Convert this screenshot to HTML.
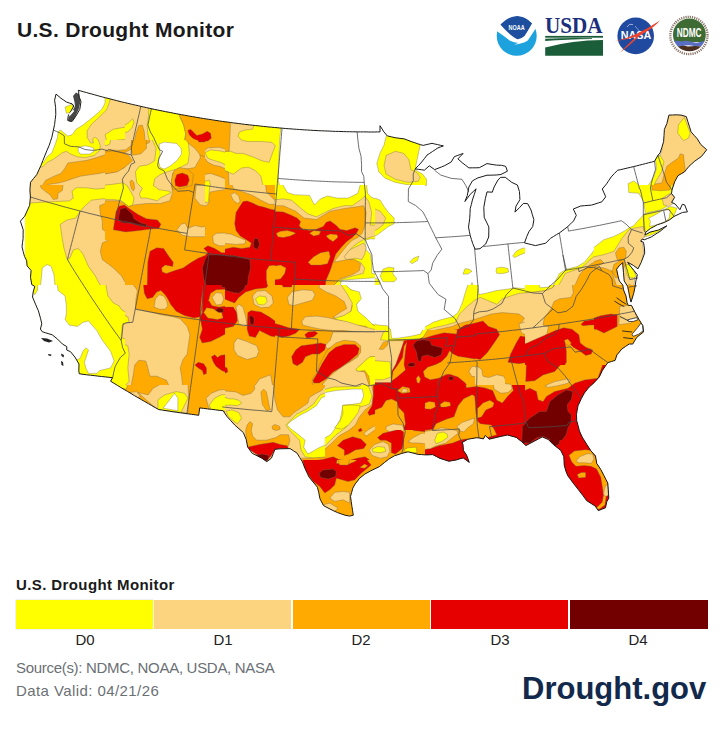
<!DOCTYPE html>
<html><head><meta charset="utf-8"><style>
html,body{margin:0;padding:0;background:#fff;}
body{width:724px;height:732px;position:relative;overflow:hidden;font-family:"Liberation Sans",sans-serif;}
.map{position:absolute;left:0;top:0;}
.t{position:absolute;white-space:nowrap;}
#title{left:17px;top:18px;font-size:21px;font-weight:bold;color:#1a1a1a;letter-spacing:0.3px;}
#ltitle{left:16px;top:576px;font-size:15px;font-weight:bold;color:#1a1a1a;letter-spacing:0.4px;}
.bar{position:absolute;top:600px;height:29px;}
.lab{position:absolute;top:631px;font-size:15px;color:#222;text-align:center;width:138px;}
#src{left:16px;top:659px;font-size:15px;color:#6b7075;letter-spacing:-0.3px;}
#valid{left:16px;top:682px;font-size:15px;color:#6b7075;letter-spacing:0.42px;}
#dg{left:522px;top:671px;font-size:31px;font-weight:bold;color:#13294b;}
</style></head><body>

<svg class="map" width="724" height="732" viewBox="0 0 724 732">
<defs><clipPath id="us"><path d="M56.0,94.1 L54.6,100.2 L55.6,107.4 L55.8,114.4 L55.2,119.4 L54.6,124.4 L53.4,130.1 L51.8,137.4 L50.5,141.3 L49.2,145.3 L46.9,150.6 L44.7,156.0 L42.8,160.7 L41.0,165.3 L38.9,169.9 L36.8,174.5 L33.6,178.4 L30.5,182.3 L29.9,189.9 L30.4,197.0 L30.0,201.2 L29.6,205.5 L27.1,210.9 L24.7,216.2 L20.4,221.2 L23.2,229.8 L23.1,234.1 L23.1,238.5 L22.5,242.7 L22.0,246.9 L23.2,251.6 L24.5,256.4 L26.6,260.5 L27.1,265.9 L31.1,270.5 L30.5,277.3 L31.8,284.7 L34.8,286.4 L33.2,292.0 L32.5,297.0 L35.8,304.9 L38.4,310.8 L40.5,318.3 L41.8,323.8 L40.4,329.0 L42.2,331.7 L45.6,332.8 L48.9,333.8 L52.2,334.8 L57.5,339.1 L62.5,344.1 L66.8,346.6 L66.7,350.0 L70.5,351.7 L74.9,357.1 L79.0,364.0 L78.8,370.8 L79.3,373.8 L83.0,374.3 L86.7,374.8 L90.4,375.2 L94.1,375.6 L97.8,376.1 L101.5,376.5 L105.2,376.9 L108.9,377.3 L112.6,377.7 L110.6,381.2 L114.0,383.3 L117.3,385.3 L120.7,387.4 L124.2,389.5 L127.6,391.5 L131.0,393.5 L134.4,395.6 L137.9,397.6 L141.3,399.6 L144.8,401.6 L148.3,403.6 L151.7,405.6 L155.2,407.6 L158.7,409.5 L162.4,410.1 L166.0,410.7 L169.6,411.2 L173.2,411.8 L176.9,412.3 L180.5,412.8 L184.1,413.3 L187.8,413.8 L191.4,414.3 L195.1,414.8 L198.7,415.3 L199.7,407.9 L203.6,408.4 L207.5,408.9 L211.4,409.3 L215.3,409.8 L219.2,410.3 L223.1,410.7 L227.1,416.7 L230.9,420.8 L234.7,425.0 L239.0,428.8 L243.3,432.5 L246.2,439.5 L247.7,447.1 L252.2,453.3 L257.1,455.8 L262.0,458.3 L266.8,461.7 L271.4,458.2 L273.2,453.8 L274.9,449.3 L280.0,448.8 L285.1,448.7 L290.1,448.6 L293.6,450.9 L297.1,453.2 L299.7,457.5 L302.4,461.8 L305.0,468.5 L307.0,472.7 L309.0,477.0 L313.2,482.1 L317.4,487.2 L318.7,492.3 L320.0,498.9 L323.5,505.6 L330.1,509.1 L333.8,510.9 L337.5,512.6 L341.2,513.9 L345.0,515.2 L349.5,516.1 L353.3,515.2 L352.6,510.7 L351.9,506.3 L351.2,501.3 L350.5,496.4 L351.7,492.3 L352.8,488.2 L355.1,484.1 L359.6,478.3 L364.7,474.2 L370.6,470.9 L374.9,468.8 L379.3,466.7 L384.4,462.6 L388.7,459.2 L394.4,455.8 L398.0,454.7 L401.6,453.5 L408.0,451.8 L413.1,453.1 L418.2,454.4 L421.8,454.6 L425.4,454.9 L429.0,454.8 L432.6,454.6 L436.3,456.5 L440.0,458.4 L444.4,459.8 L448.9,461.3 L452.5,460.6 L456.1,460.0 L459.6,458.9 L463.2,457.9 L469.3,462.4 L466.6,455.2 L463.4,450.4 L463.0,444.6 L462.2,442.5 L467.7,439.3 L471.9,438.5 L476.2,437.8 L479.0,437.9 L483.4,438.9 L485.3,435.4 L489.2,439.2 L492.0,438.5 L496.2,437.5 L500.4,436.5 L503.9,435.8 L507.4,435.0 L511.9,436.2 L516.3,437.4 L521.9,441.8 L525.9,445.6 L530.0,443.4 L534.1,441.3 L538.2,439.1 L542.2,436.9 L548.3,439.5 L553.4,444.6 L560.7,450.3 L563.8,456.6 L564.0,460.7 L564.2,464.9 L565.9,471.3 L568.0,476.0 L570.8,479.8 L573.6,483.6 L578.3,489.6 L582.9,495.5 L586.8,500.8 L591.0,503.4 L595.2,506.1 L598.3,510.6 L601.9,509.2 L605.5,507.8 L606.8,501.7 L608.8,498.1 L608.5,493.9 L608.3,489.8 L607.8,483.2 L605.9,479.4 L603.9,475.5 L600.7,469.4 L596.7,463.3 L595.5,456.0 L590.9,450.8 L587.0,444.8 L584.6,440.9 L582.2,437.1 L579.4,430.8 L578.1,425.7 L576.7,420.6 L576.5,414.5 L577.2,410.1 L578.0,405.8 L581.4,398.5 L584.4,393.0 L589.1,387.1 L592.8,383.9 L596.1,380.4 L599.3,376.9 L602.4,370.4 L605.1,366.5 L607.9,362.6 L611.5,361.5 L615.1,360.4 L616.9,354.9 L621.9,348.9 L625.6,346.4 L629.2,344.0 L632.7,344.1 L636.8,337.3 L640.1,334.7 L643.5,332.0 L642.9,325.7 L639.1,319.6 L636.7,315.4 L634.4,311.2 L631.5,305.4 L628.2,305.4 L627.1,302.7 L626.0,296.0 L623.5,289.9 L622.8,285.1 L619.3,280.9 L618.0,276.1 L616.6,269.2 L619.3,265.7 L622.8,262.6 L622.8,265.7 L623.5,272.6 L624.2,280.9 L627.6,286.4 L628.6,291.2 L629.5,296.0 L631.0,302.1 L633.7,293.3 L635.0,287.0 L635.9,280.9 L637.3,274.7 L634.0,270.5 L629.5,265.0 L627.6,262.3 L630.0,263.5 L633.5,265.5 L638.0,268.8 L641.1,262.6 L642.9,257.9 L644.7,253.1 L644.4,248.0 L643.5,242.3 L640.7,241.2 L642.1,239.1 L644.2,239.8 L647.7,238.4 L651.2,237.0 L654.2,235.1 L657.1,233.2 L660.1,231.3 L663.5,228.6 L666.9,225.8 L662.7,227.9 L658.5,230.0 L654.2,231.1 L650.0,232.1 L645.0,235.0 L645.6,232.3 L650.4,228.5 L653.8,226.7 L657.2,224.8 L660.7,223.7 L664.2,222.5 L667.0,221.1 L669.9,219.6 L674.1,216.4 L678.1,214.5 L682.6,212.4 L687.4,211.9 L684.7,204.9 L682.3,204.3 L679.9,209.7 L675.2,204.0 L671.6,202.4 L674.6,197.3 L671.5,193.5 L672.0,189.9 L674.7,181.7 L678.0,175.6 L681.2,173.8 L684.4,172.0 L686.7,169.2 L688.9,166.4 L691.9,163.7 L694.8,161.1 L698.1,158.8 L701.4,156.5 L704.1,153.1 L706.7,149.7 L700.8,144.5 L697.2,138.7 L694.1,135.3 L691.1,131.9 L689.5,126.8 L687.9,121.7 L686.3,116.6 L681.0,115.1 L676.2,114.8 L672.5,115.0 L668.9,115.1 L666.9,123.5 L664.4,129.4 L664.0,135.5 L663.6,141.6 L661.9,147.3 L660.1,152.9 L658.0,155.2 L654.5,161.3 L651.5,162.1 L648.5,162.8 L645.5,163.6 L642.5,164.4 L639.5,165.1 L636.5,165.9 L633.5,166.6 L630.3,167.4 L627.1,168.1 L623.9,168.9 L620.7,169.6 L617.5,170.3 L614.3,173.6 L611.2,176.9 L608.9,180.3 L606.6,183.8 L602.3,189.0 L604.0,192.9 L605.7,196.8 L601.9,201.8 L598.4,202.9 L595.0,204.0 L591.5,205.1 L587.9,205.4 L584.3,205.7 L580.7,206.0 L577.0,207.5 L573.3,209.0 L576.3,215.3 L573.6,220.9 L570.7,223.8 L567.7,226.6 L564.9,228.8 L562.1,230.9 L559.3,233.0 L556.4,234.7 L553.5,236.5 L550.5,238.3 L545.7,243.2 L542.2,244.0 L538.8,244.8 L535.4,245.6 L531.8,244.7 L528.1,243.8 L524.5,242.9 L526.7,236.7 L529.1,231.3 L532.7,226.6 L533.9,219.6 L532.4,214.8 L531.0,210.0 L527.7,203.7 L523.4,203.4 L519.8,207.3 L515.0,212.1 L516.0,206.1 L519.9,199.7 L519.7,195.6 L519.4,191.4 L517.4,185.0 L511.8,182.4 L508.5,179.8 L505.3,177.3 L500.6,177.4 L498.0,179.9 L494.1,187.0 L492.3,192.2 L487.0,191.9 L485.3,198.8 L484.6,203.0 L483.8,207.3 L484.0,212.3 L484.2,217.3 L486.5,222.1 L488.8,226.9 L488.8,231.9 L488.7,237.0 L485.7,244.0 L482.8,246.4 L480.0,248.7 L475.1,249.2 L472.7,243.5 L471.4,239.4 L470.2,235.4 L469.3,231.2 L468.5,227.1 L469.1,222.9 L469.7,218.7 L470.0,213.6 L470.2,208.6 L471.4,204.3 L472.4,200.0 L474.3,194.4 L476.1,188.8 L473.2,191.6 L470.2,194.4 L467.5,198.0 L464.9,201.5 L467.3,195.5 L468.1,191.2 L468.9,187.0 L472.4,180.9 L475.2,179.3 L478.0,177.8 L481.0,177.0 L484.0,176.1 L487.0,175.2 L490.1,175.2 L493.2,175.1 L496.3,175.0 L500.9,174.5 L504.1,172.9 L507.4,171.2 L505.7,166.4 L501.5,165.3 L496.3,165.1 L493.1,164.6 L490.0,164.1 L486.9,163.6 L483.1,165.7 L479.3,167.7 L475.8,167.8 L472.4,167.8 L468.9,167.9 L465.6,165.3 L462.2,162.7 L457.9,158.9 L460.5,156.2 L463.1,153.5 L460.2,154.5 L457.2,155.6 L454.3,156.7 L451.3,161.9 L448.0,163.8 L444.7,165.6 L441.4,167.0 L438.0,168.3 L434.7,169.6 L429.3,165.8 L424.4,170.2 L421.3,169.7 L418.2,169.3 L415.2,168.9 L418.5,165.5 L421.7,162.0 L424.4,158.6 L427.0,155.1 L429.8,153.3 L432.5,151.5 L435.2,149.7 L437.9,147.9 L440.6,146.9 L443.4,145.9 L440.5,145.3 L437.7,144.6 L434.8,144.0 L432.0,143.3 L429.1,144.0 L426.1,144.7 L423.2,145.4 L420.3,144.6 L417.5,143.7 L414.7,142.7 L411.9,141.8 L407.9,140.3 L404.0,138.8 L401.0,138.5 L398.0,138.1 L395.1,137.7 L391.2,136.8 L387.3,135.9 L383.9,131.9 L380.0,125.7 L380.0,131.9 L377.3,131.9 L374.5,132.0 L371.7,132.0 L368.9,132.0 L366.1,131.9 L363.3,131.9 L360.5,131.9 L357.8,131.9 L355.0,131.8 L352.2,131.8 L349.4,131.7 L346.6,131.7 L343.8,131.6 L341.0,131.5 L338.3,131.4 L335.5,131.4 L332.7,131.3 L329.9,131.1 L327.1,131.0 L324.3,130.9 L321.6,130.8 L318.8,130.7 L316.0,130.5 L313.2,130.4 L310.4,130.2 L307.6,130.0 L304.9,129.9 L302.1,129.7 L299.3,129.5 L296.5,129.3 L293.7,129.1 L291.0,128.9 L288.2,128.7 L285.4,128.5 L282.6,128.2 L279.9,128.0 L277.1,127.7 L274.4,127.5 L271.7,127.2 L268.9,127.0 L266.2,126.7 L263.4,126.4 L260.7,126.1 L258.0,125.8 L255.2,125.5 L252.5,125.2 L249.7,124.9 L247.0,124.6 L244.3,124.3 L241.5,123.9 L238.8,123.6 L236.1,123.2 L233.3,122.9 L230.6,122.5 L227.9,122.1 L225.1,121.8 L222.4,121.4 L219.7,121.0 L217.0,120.6 L214.2,120.2 L211.5,119.7 L208.8,119.3 L206.1,118.9 L203.4,118.5 L200.6,118.0 L197.9,117.6 L195.2,117.1 L192.5,116.6 L189.8,116.2 L187.1,115.7 L184.4,115.2 L181.6,114.7 L178.9,114.2 L176.2,113.7 L173.5,113.2 L170.8,112.6 L168.1,112.1 L165.4,111.6 L162.7,111.0 L160.0,110.5 L157.3,109.9 L154.6,109.4 L151.9,108.8 L149.2,108.2 L146.4,107.6 L143.7,107.0 L140.9,106.4 L138.2,105.7 L135.4,105.1 L132.7,104.5 L129.9,103.8 L127.2,103.2 L124.5,102.5 L121.7,101.9 L119.0,101.2 L116.3,100.5 L113.5,99.8 L110.8,99.1 L108.1,98.4 L105.4,97.7 L102.6,97.0 L99.9,96.3 L97.2,95.5 L94.5,94.8 L91.8,94.0 L89.0,93.3 L86.3,92.5 L83.6,91.8 L80.9,91.0 L78.2,90.2 L78.7,91.1 L78.7,96.0 L81.0,101.6 L79.8,109.3 L76.0,115.9 L72.1,121.5 L67.7,120.4 L68.2,115.9 L71.0,110.9 L73.8,106.0 L72.1,103.8 L69.3,103.0 L66.6,102.1 L63.8,100.2 L61.0,98.3Z"/></clipPath><clipPath id="t0"><rect x="25" y="85" width="100" height="100"/></clipPath><clipPath id="t1"><rect x="125" y="85" width="100" height="100"/></clipPath><clipPath id="t2"><rect x="225" y="85" width="100" height="100"/></clipPath><clipPath id="t3"><rect x="325" y="85" width="150" height="150"/></clipPath><clipPath id="t4"><rect x="594" y="100" width="120" height="120"/></clipPath><clipPath id="t5"><rect x="25" y="185" width="100" height="100"/></clipPath><clipPath id="t6"><rect x="125" y="185" width="100" height="100"/></clipPath><clipPath id="t7"><rect x="225" y="185" width="100" height="100"/></clipPath><clipPath id="t8"><rect x="325" y="185" width="100" height="100"/></clipPath><clipPath id="t9"><rect x="425" y="185" width="100" height="100"/></clipPath><clipPath id="t10"><rect x="525" y="185" width="100" height="100"/></clipPath><clipPath id="t11"><rect x="594" y="185" width="120" height="120"/></clipPath><clipPath id="t12"><rect x="25" y="285" width="100" height="100"/></clipPath><clipPath id="t13"><rect x="125" y="285" width="100" height="100"/></clipPath><clipPath id="t14"><rect x="225" y="285" width="100" height="100"/></clipPath><clipPath id="t15"><rect x="325" y="285" width="100" height="100"/></clipPath><clipPath id="t16"><rect x="425" y="285" width="100" height="100"/></clipPath><clipPath id="t17"><rect x="525" y="285" width="100" height="100"/></clipPath><clipPath id="t18"><rect x="594" y="285" width="120" height="120"/></clipPath><clipPath id="t19"><rect x="105" y="385" width="120" height="120"/></clipPath><clipPath id="t20"><rect x="225" y="385" width="100" height="100"/></clipPath><clipPath id="t21"><rect x="325" y="385" width="100" height="100"/></clipPath><clipPath id="t22"><rect x="425" y="385" width="100" height="100"/></clipPath><clipPath id="t23"><rect x="505" y="365" width="120" height="120"/></clipPath><clipPath id="t24"><rect x="285" y="460" width="120" height="120"/></clipPath><clipPath id="t25"><rect x="540" y="440" width="100" height="100"/></clipPath><clipPath id="t26"><rect x="105" y="140" width="100" height="100"/></clipPath><clipPath id="t27"><rect x="375" y="330" width="100" height="100"/></clipPath><clipPath id="t28"><rect x="275" y="185" width="100" height="100"/></clipPath><clipPath id="t29"><rect x="275" y="285" width="100" height="100"/></clipPath><clipPath id="t30"><rect x="425" y="385" width="100" height="100"/></clipPath></defs>
<path d="M56.0,94.1 L54.6,100.2 L55.6,107.4 L55.8,114.4 L55.2,119.4 L54.6,124.4 L53.4,130.1 L51.8,137.4 L50.5,141.3 L49.2,145.3 L46.9,150.6 L44.7,156.0 L42.8,160.7 L41.0,165.3 L38.9,169.9 L36.8,174.5 L33.6,178.4 L30.5,182.3 L29.9,189.9 L30.4,197.0 L30.0,201.2 L29.6,205.5 L27.1,210.9 L24.7,216.2 L20.4,221.2 L23.2,229.8 L23.1,234.1 L23.1,238.5 L22.5,242.7 L22.0,246.9 L23.2,251.6 L24.5,256.4 L26.6,260.5 L27.1,265.9 L31.1,270.5 L30.5,277.3 L31.8,284.7 L34.8,286.4 L33.2,292.0 L32.5,297.0 L35.8,304.9 L38.4,310.8 L40.5,318.3 L41.8,323.8 L40.4,329.0 L42.2,331.7 L45.6,332.8 L48.9,333.8 L52.2,334.8 L57.5,339.1 L62.5,344.1 L66.8,346.6 L66.7,350.0 L70.5,351.7 L74.9,357.1 L79.0,364.0 L78.8,370.8 L79.3,373.8 L83.0,374.3 L86.7,374.8 L90.4,375.2 L94.1,375.6 L97.8,376.1 L101.5,376.5 L105.2,376.9 L108.9,377.3 L112.6,377.7 L110.6,381.2 L114.0,383.3 L117.3,385.3 L120.7,387.4 L124.2,389.5 L127.6,391.5 L131.0,393.5 L134.4,395.6 L137.9,397.6 L141.3,399.6 L144.8,401.6 L148.3,403.6 L151.7,405.6 L155.2,407.6 L158.7,409.5 L162.4,410.1 L166.0,410.7 L169.6,411.2 L173.2,411.8 L176.9,412.3 L180.5,412.8 L184.1,413.3 L187.8,413.8 L191.4,414.3 L195.1,414.8 L198.7,415.3 L199.7,407.9 L203.6,408.4 L207.5,408.9 L211.4,409.3 L215.3,409.8 L219.2,410.3 L223.1,410.7 L227.1,416.7 L230.9,420.8 L234.7,425.0 L239.0,428.8 L243.3,432.5 L246.2,439.5 L247.7,447.1 L252.2,453.3 L257.1,455.8 L262.0,458.3 L266.8,461.7 L271.4,458.2 L273.2,453.8 L274.9,449.3 L280.0,448.8 L285.1,448.7 L290.1,448.6 L293.6,450.9 L297.1,453.2 L299.7,457.5 L302.4,461.8 L305.0,468.5 L307.0,472.7 L309.0,477.0 L313.2,482.1 L317.4,487.2 L318.7,492.3 L320.0,498.9 L323.5,505.6 L330.1,509.1 L333.8,510.9 L337.5,512.6 L341.2,513.9 L345.0,515.2 L349.5,516.1 L353.3,515.2 L352.6,510.7 L351.9,506.3 L351.2,501.3 L350.5,496.4 L351.7,492.3 L352.8,488.2 L355.1,484.1 L359.6,478.3 L364.7,474.2 L370.6,470.9 L374.9,468.8 L379.3,466.7 L384.4,462.6 L388.7,459.2 L394.4,455.8 L398.0,454.7 L401.6,453.5 L408.0,451.8 L413.1,453.1 L418.2,454.4 L421.8,454.6 L425.4,454.9 L429.0,454.8 L432.6,454.6 L436.3,456.5 L440.0,458.4 L444.4,459.8 L448.9,461.3 L452.5,460.6 L456.1,460.0 L459.6,458.9 L463.2,457.9 L469.3,462.4 L466.6,455.2 L463.4,450.4 L463.0,444.6 L462.2,442.5 L467.7,439.3 L471.9,438.5 L476.2,437.8 L479.0,437.9 L483.4,438.9 L485.3,435.4 L489.2,439.2 L492.0,438.5 L496.2,437.5 L500.4,436.5 L503.9,435.8 L507.4,435.0 L511.9,436.2 L516.3,437.4 L521.9,441.8 L525.9,445.6 L530.0,443.4 L534.1,441.3 L538.2,439.1 L542.2,436.9 L548.3,439.5 L553.4,444.6 L560.7,450.3 L563.8,456.6 L564.0,460.7 L564.2,464.9 L565.9,471.3 L568.0,476.0 L570.8,479.8 L573.6,483.6 L578.3,489.6 L582.9,495.5 L586.8,500.8 L591.0,503.4 L595.2,506.1 L598.3,510.6 L601.9,509.2 L605.5,507.8 L606.8,501.7 L608.8,498.1 L608.5,493.9 L608.3,489.8 L607.8,483.2 L605.9,479.4 L603.9,475.5 L600.7,469.4 L596.7,463.3 L595.5,456.0 L590.9,450.8 L587.0,444.8 L584.6,440.9 L582.2,437.1 L579.4,430.8 L578.1,425.7 L576.7,420.6 L576.5,414.5 L577.2,410.1 L578.0,405.8 L581.4,398.5 L584.4,393.0 L589.1,387.1 L592.8,383.9 L596.1,380.4 L599.3,376.9 L602.4,370.4 L605.1,366.5 L607.9,362.6 L611.5,361.5 L615.1,360.4 L616.9,354.9 L621.9,348.9 L625.6,346.4 L629.2,344.0 L632.7,344.1 L636.8,337.3 L640.1,334.7 L643.5,332.0 L642.9,325.7 L639.1,319.6 L636.7,315.4 L634.4,311.2 L631.5,305.4 L628.2,305.4 L627.1,302.7 L626.0,296.0 L623.5,289.9 L622.8,285.1 L619.3,280.9 L618.0,276.1 L616.6,269.2 L619.3,265.7 L622.8,262.6 L622.8,265.7 L623.5,272.6 L624.2,280.9 L627.6,286.4 L628.6,291.2 L629.5,296.0 L631.0,302.1 L633.7,293.3 L635.0,287.0 L635.9,280.9 L637.3,274.7 L634.0,270.5 L629.5,265.0 L627.6,262.3 L630.0,263.5 L633.5,265.5 L638.0,268.8 L641.1,262.6 L642.9,257.9 L644.7,253.1 L644.4,248.0 L643.5,242.3 L640.7,241.2 L642.1,239.1 L644.2,239.8 L647.7,238.4 L651.2,237.0 L654.2,235.1 L657.1,233.2 L660.1,231.3 L663.5,228.6 L666.9,225.8 L662.7,227.9 L658.5,230.0 L654.2,231.1 L650.0,232.1 L645.0,235.0 L645.6,232.3 L650.4,228.5 L653.8,226.7 L657.2,224.8 L660.7,223.7 L664.2,222.5 L667.0,221.1 L669.9,219.6 L674.1,216.4 L678.1,214.5 L682.6,212.4 L687.4,211.9 L684.7,204.9 L682.3,204.3 L679.9,209.7 L675.2,204.0 L671.6,202.4 L674.6,197.3 L671.5,193.5 L672.0,189.9 L674.7,181.7 L678.0,175.6 L681.2,173.8 L684.4,172.0 L686.7,169.2 L688.9,166.4 L691.9,163.7 L694.8,161.1 L698.1,158.8 L701.4,156.5 L704.1,153.1 L706.7,149.7 L700.8,144.5 L697.2,138.7 L694.1,135.3 L691.1,131.9 L689.5,126.8 L687.9,121.7 L686.3,116.6 L681.0,115.1 L676.2,114.8 L672.5,115.0 L668.9,115.1 L666.9,123.5 L664.4,129.4 L664.0,135.5 L663.6,141.6 L661.9,147.3 L660.1,152.9 L658.0,155.2 L654.5,161.3 L651.5,162.1 L648.5,162.8 L645.5,163.6 L642.5,164.4 L639.5,165.1 L636.5,165.9 L633.5,166.6 L630.3,167.4 L627.1,168.1 L623.9,168.9 L620.7,169.6 L617.5,170.3 L614.3,173.6 L611.2,176.9 L608.9,180.3 L606.6,183.8 L602.3,189.0 L604.0,192.9 L605.7,196.8 L601.9,201.8 L598.4,202.9 L595.0,204.0 L591.5,205.1 L587.9,205.4 L584.3,205.7 L580.7,206.0 L577.0,207.5 L573.3,209.0 L576.3,215.3 L573.6,220.9 L570.7,223.8 L567.7,226.6 L564.9,228.8 L562.1,230.9 L559.3,233.0 L556.4,234.7 L553.5,236.5 L550.5,238.3 L545.7,243.2 L542.2,244.0 L538.8,244.8 L535.4,245.6 L531.8,244.7 L528.1,243.8 L524.5,242.9 L526.7,236.7 L529.1,231.3 L532.7,226.6 L533.9,219.6 L532.4,214.8 L531.0,210.0 L527.7,203.7 L523.4,203.4 L519.8,207.3 L515.0,212.1 L516.0,206.1 L519.9,199.7 L519.7,195.6 L519.4,191.4 L517.4,185.0 L511.8,182.4 L508.5,179.8 L505.3,177.3 L500.6,177.4 L498.0,179.9 L494.1,187.0 L492.3,192.2 L487.0,191.9 L485.3,198.8 L484.6,203.0 L483.8,207.3 L484.0,212.3 L484.2,217.3 L486.5,222.1 L488.8,226.9 L488.8,231.9 L488.7,237.0 L485.7,244.0 L482.8,246.4 L480.0,248.7 L475.1,249.2 L472.7,243.5 L471.4,239.4 L470.2,235.4 L469.3,231.2 L468.5,227.1 L469.1,222.9 L469.7,218.7 L470.0,213.6 L470.2,208.6 L471.4,204.3 L472.4,200.0 L474.3,194.4 L476.1,188.8 L473.2,191.6 L470.2,194.4 L467.5,198.0 L464.9,201.5 L467.3,195.5 L468.1,191.2 L468.9,187.0 L472.4,180.9 L475.2,179.3 L478.0,177.8 L481.0,177.0 L484.0,176.1 L487.0,175.2 L490.1,175.2 L493.2,175.1 L496.3,175.0 L500.9,174.5 L504.1,172.9 L507.4,171.2 L505.7,166.4 L501.5,165.3 L496.3,165.1 L493.1,164.6 L490.0,164.1 L486.9,163.6 L483.1,165.7 L479.3,167.7 L475.8,167.8 L472.4,167.8 L468.9,167.9 L465.6,165.3 L462.2,162.7 L457.9,158.9 L460.5,156.2 L463.1,153.5 L460.2,154.5 L457.2,155.6 L454.3,156.7 L451.3,161.9 L448.0,163.8 L444.7,165.6 L441.4,167.0 L438.0,168.3 L434.7,169.6 L429.3,165.8 L424.4,170.2 L421.3,169.7 L418.2,169.3 L415.2,168.9 L418.5,165.5 L421.7,162.0 L424.4,158.6 L427.0,155.1 L429.8,153.3 L432.5,151.5 L435.2,149.7 L437.9,147.9 L440.6,146.9 L443.4,145.9 L440.5,145.3 L437.7,144.6 L434.8,144.0 L432.0,143.3 L429.1,144.0 L426.1,144.7 L423.2,145.4 L420.3,144.6 L417.5,143.7 L414.7,142.7 L411.9,141.8 L407.9,140.3 L404.0,138.8 L401.0,138.5 L398.0,138.1 L395.1,137.7 L391.2,136.8 L387.3,135.9 L383.9,131.9 L380.0,125.7 L380.0,131.9 L377.3,131.9 L374.5,132.0 L371.7,132.0 L368.9,132.0 L366.1,131.9 L363.3,131.9 L360.5,131.9 L357.8,131.9 L355.0,131.8 L352.2,131.8 L349.4,131.7 L346.6,131.7 L343.8,131.6 L341.0,131.5 L338.3,131.4 L335.5,131.4 L332.7,131.3 L329.9,131.1 L327.1,131.0 L324.3,130.9 L321.6,130.8 L318.8,130.7 L316.0,130.5 L313.2,130.4 L310.4,130.2 L307.6,130.0 L304.9,129.9 L302.1,129.7 L299.3,129.5 L296.5,129.3 L293.7,129.1 L291.0,128.9 L288.2,128.7 L285.4,128.5 L282.6,128.2 L279.9,128.0 L277.1,127.7 L274.4,127.5 L271.7,127.2 L268.9,127.0 L266.2,126.7 L263.4,126.4 L260.7,126.1 L258.0,125.8 L255.2,125.5 L252.5,125.2 L249.7,124.9 L247.0,124.6 L244.3,124.3 L241.5,123.9 L238.8,123.6 L236.1,123.2 L233.3,122.9 L230.6,122.5 L227.9,122.1 L225.1,121.8 L222.4,121.4 L219.7,121.0 L217.0,120.6 L214.2,120.2 L211.5,119.7 L208.8,119.3 L206.1,118.9 L203.4,118.5 L200.6,118.0 L197.9,117.6 L195.2,117.1 L192.5,116.6 L189.8,116.2 L187.1,115.7 L184.4,115.2 L181.6,114.7 L178.9,114.2 L176.2,113.7 L173.5,113.2 L170.8,112.6 L168.1,112.1 L165.4,111.6 L162.7,111.0 L160.0,110.5 L157.3,109.9 L154.6,109.4 L151.9,108.8 L149.2,108.2 L146.4,107.6 L143.7,107.0 L140.9,106.4 L138.2,105.7 L135.4,105.1 L132.7,104.5 L129.9,103.8 L127.2,103.2 L124.5,102.5 L121.7,101.9 L119.0,101.2 L116.3,100.5 L113.5,99.8 L110.8,99.1 L108.1,98.4 L105.4,97.7 L102.6,97.0 L99.9,96.3 L97.2,95.5 L94.5,94.8 L91.8,94.0 L89.0,93.3 L86.3,92.5 L83.6,91.8 L80.9,91.0 L78.2,90.2 L78.7,91.1 L78.7,96.0 L81.0,101.6 L79.8,109.3 L76.0,115.9 L72.1,121.5 L67.7,120.4 L68.2,115.9 L71.0,110.9 L73.8,106.0 L72.1,103.8 L69.3,103.0 L66.6,102.1 L63.8,100.2 L61.0,98.3Z" fill="#fff"/>
<g clip-path="url(#us)" stroke="#7a6a50" stroke-opacity="0.55" stroke-width="0.7" stroke-linejoin="round">
<g clip-path="url(#t0)"><polygon fill="#ffff00" points="20.9,80.9 129.1,80.9 129.1,189.1 20.9,189.1"/><polygon fill="#ffffff" points="20.9,80.9 104.4,80.9 105.1,103.0 102.3,108.5 96.8,114.0 89.9,119.5 83.0,125.1 76.1,129.2 72.0,134.7 67.8,136.1 63.7,132.7 60.2,129.9 58.1,132.0 57.5,137.5 54.7,145.8 51.9,152.7 47.1,156.8 43.6,162.3 20.9,162.3"/><polygon fill="#ffff00" points="65.1,107.1 72.0,104.3 74.0,109.2 70.6,112.6 66.4,113.3"/><polygon fill="#ffffff" points="78.2,147.2 85.8,145.8 93.4,147.8 94.1,151.3 89.9,154.1 80.2,154.1 78.2,151.3"/><polygon fill="#fcd37f" points="110.6,98.8 129.1,98.8 129.1,189.1 20.9,189.1 20.9,173.4 43.0,166.5 47.1,162.3 52.6,159.6 56.8,156.8 62.3,152.7 66.4,151.3 70.6,154.1 77.5,156.8 85.8,157.5 94.1,155.4 99.6,150.6 100.3,145.8 98.2,139.6 94.8,137.2 92.7,138.9 93.4,143.0 90.6,143.0 87.2,137.5 87.2,130.6 91.3,124.4 99.6,116.8 106.5,109.9"/><polygon fill="#ffff00" points="105.1,134.7 113.4,129.2 129.1,126.4 129.1,138.9 116.2,140.2 110.6,143.0 107.9,145.8 106.5,140.2"/><polygon fill="#ffaa00" points="65.1,167.9 67.8,163.0 77.5,161.7 87.2,160.3 96.8,157.5 105.1,154.8 113.4,151.3 121.7,149.9 129.1,150.6 129.1,174.8 116.2,172.0 107.9,171.3 99.6,173.4 89.9,174.8 80.2,176.2 72.0,178.9 63.7,181.7 58.1,183.1 48.5,184.4 40.2,189.1 45.7,180.3 54.0,176.2 60.9,173.4"/></g><g clip-path="url(#t1)"><polygon fill="#fcd37f" points="120.9,80.9 229.1,80.9 229.1,189.1 120.9,189.1"/><polygon fill="#ffff00" points="148.8,108.5 178.9,114.0 180.2,118.1 183.7,125.1 185.8,133.3 184.4,140.2 183.7,146.5 186.5,152.7 189.2,160.3 187.2,165.1 180.2,167.9 170.6,173.4 165.1,174.8 161.6,176.2 159.5,180.3 158.1,189.1 136.0,189.1 136.7,174.8 140.2,169.3 147.1,166.5 152.6,162.3 154.0,156.8 151.9,149.9 149.9,143.0 147.8,133.3 147.1,125.1 148.5,116.8"/><polygon fill="#ffffff" points="158.8,144.4 165.1,142.3 173.3,143.7 179.6,147.2 181.6,154.1 177.5,160.3 170.6,165.1 165.1,167.9 159.5,168.6 158.1,163.7 160.2,156.8 159.5,149.9"/><polygon fill="#ffaa00" points="120.9,154.1 130.5,153.4 133.3,145.8 136.0,133.3 138.8,125.7 142.3,125.1 144.3,132.0 145.0,140.2 146.4,147.2 147.1,151.3 145.7,155.4 138.8,156.8 133.3,156.8 120.9,159.6"/><polygon fill="#ffff00" points="120.9,127.8 129.1,122.3 132.6,118.8 134.0,122.3 131.9,127.8 127.8,132.0 120.9,132.7"/><polygon fill="#ffaa00" points="179.1,114.0 229.1,120.2 229.1,189.1 170.6,189.1 172.0,176.2 177.5,170.6 183.0,167.9 189.9,166.5 196.8,163.7 198.2,155.4 192.7,152.7 187.2,154.1 185.8,148.5 184.4,143.0 185.8,134.7 183.7,125.1"/><polygon fill="#fcd37f" points="186.5,153.4 194.1,152.7 198.2,155.4 197.5,162.3 192.7,166.5 184.4,167.9 180.2,167.9 187.2,165.1 189.2,160.3"/><polygon fill="#e60000" points="187.8,130.6 190.6,129.2 194.1,132.7 196.8,135.4 202.3,134.0 207.2,131.3 210.6,133.3 211.3,138.2 207.9,140.9 202.3,141.6 196.8,140.2 192.7,138.2 189.2,134.7"/><polygon fill="#fcd37f" points="203.7,151.3 207.9,147.8 218.9,147.2 229.1,149.9 229.1,170.6 220.3,166.5 213.4,165.1 207.9,162.3 203.7,156.8"/><polygon fill="#ffff00" points="205.1,152.7 210.6,149.9 220.3,151.0 229.1,153.4 229.1,166.5 220.3,162.3 213.4,160.3 207.9,158.2"/><polygon fill="#fcd37f" points="196.8,180.3 202.3,174.8 210.6,173.4 218.9,176.2 229.1,180.3 229.1,189.1 196.8,189.1"/><polygon fill="#ffff00" points="203.0,189.1 205.1,181.0 209.3,180.3 211.3,189.1"/><polygon fill="#ffaa00" points="172.0,178.9 174.7,170.6 180.2,166.5 185.8,169.3 189.9,174.8 191.3,181.7 189.9,189.1 172.0,189.1"/><polygon fill="#e60000" points="175.4,176.2 180.2,173.4 185.8,174.8 188.5,177.5 187.8,184.4 174.7,189.1"/><polygon fill="#ffaa00" points="129.1,189.1 130.5,180.3 133.3,179.6 134.7,189.1"/></g><g clip-path="url(#t2)"><polygon fill="#ffff00" points="220.9,80.9 329.1,80.9 329.1,189.1 220.9,189.1"/><polygon fill="#ffffff" points="281.4,123.7 329.1,123.7 329.1,189.1 280.2,189.1 278.2,179.6 279.6,140.2"/><polygon fill="#fcd37f" points="220.9,119.5 254.0,125.1 252.6,129.2 245.7,129.9 239.5,132.0 238.1,136.1 241.6,140.2 248.5,141.6 259.5,141.4 272.0,142.3 275.4,145.8 272.7,152.7 269.2,162.3 262.3,161.0 252.6,156.8 243.0,153.4 236.0,153.4 230.5,151.3 220.9,151.3"/><polygon fill="#ffaa00" points="220.9,119.5 230.5,122.3 229.8,140.2 229.1,151.3 220.9,151.3"/><polygon fill="#fcd37f" points="220.9,167.9 227.8,172.0 233.3,174.1 241.6,167.9 248.5,167.2 255.4,170.6 260.9,176.2 263.7,189.1 220.9,189.1"/><polygon fill="#ffaa00" points="220.9,170.6 228.5,172.0 229.1,189.1 220.9,189.1"/></g><g clip-path="url(#t3)"><polygon fill="#ffff00" points="387.2,132.7 422.4,134.7 416.2,163.7 415.1,169.9 422.4,174.1 426.5,179.3 426.5,185.5 418.2,186.1 405.8,184.4 395.4,182.4 385.1,178.2 378.9,172.0 376.8,163.7 379.9,153.4 384.0,145.1"/><polygon fill="#fcd37f" points="386.1,155.4 395.4,151.3 403.7,153.4 408.9,159.6 411.0,169.9 416.2,172.0 420.3,177.2 418.2,181.3 407.9,182.4 395.4,179.3 386.1,174.1 384.0,165.8"/><polygon fill="#ffff00" points="318.8,197.9 337.4,195.8 349.9,194.8 359.2,191.7 362.3,185.5 366.4,192.7 372.7,199.0 383.0,207.2 391.3,215.5 394.4,221.7 391.3,228.0 383.0,232.1 376.8,241.2 318.8,241.2"/><polygon fill="#fcd37f" points="318.8,207.2 337.4,204.1 354.0,203.1 364.4,196.9 372.7,203.1 380.9,211.4 387.2,221.7 383.0,228.0 372.7,230.0 366.4,232.1 356.1,241.2 318.8,241.2"/><polygon fill="#ffaa00" points="318.8,209.3 337.4,208.3 349.9,207.2 360.2,205.2 365.4,206.2 368.5,213.5 367.5,228.0 362.3,232.1 358.1,241.2 318.8,241.2"/><polygon fill="#e60000" points="318.8,221.7 331.2,221.7 337.4,225.9 345.7,228.0 351.9,230.0 356.1,226.9 359.2,228.0 358.1,232.1 354.0,241.2 318.8,241.2"/></g><g clip-path="url(#t4)"><polygon fill="#fcd37f" points="663.6,109.9 690.1,109.9 719.0,148.1 701.7,166.3 686.8,179.6 671.9,192.8 673.6,199.4 671.9,206.1 663.6,206.1 660.3,199.4 650.4,192.8 651.2,182.9 657.0,176.2 660.3,166.3 659.5,156.4 662.0,149.7"/><polygon fill="#ffff00" points="678.5,124.9 684.3,117.4 690.1,133.1 688.5,138.1 683.5,140.6 677.7,133.1"/><polygon fill="#ffaa00" points="666.9,166.3 673.6,161.3 678.5,158.0 680.2,153.9 683.5,154.7 684.3,163.0 685.2,169.6 680.2,177.9 673.6,184.5 670.2,190.3 660.3,190.3 651.2,188.7 652.0,184.5 662.0,182.9 663.6,176.2"/><polygon fill="#ffff00" points="628.0,183.7 633.8,180.9 638.4,184.5 643.7,192.0 649.5,183.7 654.0,176.2 656.7,168.0 655.0,157.7 660.0,155.2 663.9,161.7 661.6,171.6 655.7,181.5 652.3,189.5 657.8,192.8 665.6,192.8 667.8,199.4 665.6,206.1 660.6,210.7 648.7,213.4 647.9,225.0 640.4,225.0 643.7,207.7 642.1,199.4 637.9,193.6 633.8,190.3 628.8,190.3"/><polygon fill="#ffff00" points="668.6,225.0 671.9,212.7 676.9,207.7 680.2,209.4 678.5,225.0"/></g><g clip-path="url(#t5)"><polygon fill="#ffff00" points="20.9,180.9 129.1,180.9 129.1,289.1 20.9,289.1"/><polygon fill="#fcd37f" points="20.9,180.9 129.1,180.9 129.1,187.1 107.9,187.8 96.8,189.1 85.8,187.8 76.1,187.8 72.0,191.2 73.3,198.1 69.2,200.9 55.4,201.6 41.6,202.3 30.5,203.0 20.9,202.3"/><polygon fill="#ffaa00" points="40.2,180.9 63.7,180.9 62.3,190.5 58.1,193.3 57.5,198.8 53.3,199.5 49.9,194.7 44.3,190.5 40.9,187.8"/><polygon fill="#fcd37f" points="60.2,224.4 66.4,220.2 75.4,218.1 83.0,207.8 91.3,200.2 102.3,198.8 118.9,198.1 129.1,197.4 129.1,289.1 102.3,289.1 95.4,276.2 88.5,266.5 83.0,254.1 78.2,248.5 73.3,249.9 69.9,258.2 67.1,259.6 63.7,247.2 61.6,234.7"/><polygon fill="#ffaa00" points="99.6,205.7 107.9,202.3 120.3,203.0 129.1,203.0 129.1,289.1 121.7,276.2 113.4,267.9 102.3,259.6 100.3,251.3 102.3,243.0 110.6,238.9 107.9,233.3 102.3,229.2 102.3,220.9 100.3,214.0"/><polygon fill="#e60000" points="113.4,227.8 115.5,212.6 120.3,205.0 129.1,204.3 129.1,233.3 116.2,232.7"/><polygon fill="#730000" points="118.9,218.1 120.3,209.9 123.8,205.7 129.1,205.7 129.1,223.7 121.7,223.0"/><polygon fill="#ffffff" points="40.2,289.1 42.3,267.9 47.1,264.4 51.2,266.5 54.0,274.8 55.4,289.1"/></g><g clip-path="url(#t6)"><polygon fill="#ffaa00" points="120.9,180.9 229.1,180.9 229.1,289.1 120.9,289.1"/><polygon fill="#fcd37f" points="120.9,180.9 173.3,180.9 172.7,191.9 166.4,193.3 160.9,195.4 162.3,200.2 158.1,204.3 149.9,204.3 141.6,205.0 133.3,207.1 120.9,207.1"/><polygon fill="#ffff00" points="120.9,180.9 130.5,180.9 131.9,190.5 133.3,197.4 133.3,204.3 129.1,207.1 120.9,205.7"/><polygon fill="#ffff00" points="140.2,190.5 145.7,180.9 170.6,180.9 169.9,190.5 162.3,193.3 159.5,196.0 161.6,200.2 158.1,203.0 152.6,202.3 148.5,198.1 141.6,198.8 139.5,194.7"/><polygon fill="#e60000" points="174.7,180.9 185.8,180.9 185.1,187.1 177.5,187.8"/><polygon fill="#fcd37f" points="194.1,180.9 229.1,180.9 229.1,189.1 218.9,190.5 210.6,191.9 207.9,196.0 209.3,201.6 206.5,205.7 199.6,205.7 196.1,201.6 194.1,193.3"/><polygon fill="#ffff00" points="203.7,180.9 210.6,180.9 209.3,190.5 208.6,201.6 205.1,203.0 203.7,194.7"/><polygon fill="#e60000" points="120.9,207.1 130.5,208.5 136.0,212.6 141.6,216.8 149.9,220.2 158.1,220.2 160.9,225.1 158.8,229.2 149.9,229.2 141.6,227.8 131.9,230.6 120.9,233.3"/><polygon fill="#730000" points="120.9,208.5 129.1,211.2 133.3,216.8 131.9,220.9 138.8,222.3 144.3,223.0 147.8,225.1 141.6,226.4 133.3,225.1 120.9,223.7"/><polygon fill="#fcd37f" points="176.1,230.6 180.2,225.1 184.4,222.3 186.5,226.4 188.5,230.6 194.1,227.8 199.6,225.1 203.7,225.1 205.8,229.2 202.3,232.7 195.4,236.1 189.9,238.2 183.0,238.2 177.5,236.1"/><polygon fill="#fcd37f" points="212.7,236.1 216.2,233.3 229.1,232.7 229.1,245.8 218.9,245.8 213.4,243.0"/><polygon fill="#e60000" points="147.1,289.1 147.8,262.3 149.9,251.3 156.8,247.8 163.7,248.5 169.2,256.8 173.3,262.3 172.7,266.5 165.1,265.1 161.6,267.9 162.3,272.0 166.4,273.4 174.7,270.6 183.0,267.9 191.3,262.3 198.2,258.2 205.1,255.4 207.9,252.7 203.7,248.5 207.9,245.8 214.8,248.5 221.7,252.7 229.1,252.7 229.1,289.1"/><polygon fill="#730000" points="202.3,267.9 205.1,259.6 207.9,254.8 229.1,254.8 229.1,289.1 207.9,289.1 203.7,278.9"/></g><g clip-path="url(#t7)"><polygon fill="#e60000" points="220.9,180.9 329.1,180.9 329.1,289.1 220.9,289.1"/><polygon fill="#ffaa00" points="220.9,180.9 277.5,180.9 276.8,201.6 274.7,209.9 270.6,209.2 263.7,207.1 258.1,205.7 252.6,203.0 247.1,200.9 243.0,201.6 240.2,205.7 236.0,212.6 234.7,223.7 236.0,230.6 240.2,236.1 247.1,240.2 251.2,243.0 249.9,247.2 241.6,248.5 233.3,247.2 220.9,249.9"/><polygon fill="#fcd37f" points="230.5,180.9 265.1,180.9 266.4,191.9 270.6,196.0 274.7,200.2 275.4,204.3 269.2,204.3 260.9,200.2 252.6,195.4 243.0,191.9 233.3,188.5"/><polygon fill="#fcd37f" points="230.5,194.7 234.7,192.6 238.8,196.0 240.2,201.6 237.4,203.6 233.3,200.2"/><polygon fill="#fcd37f" points="220.9,233.3 230.5,234.0 238.8,237.5 245.7,240.2 245.0,243.7 236.0,244.4 220.9,243.0"/><polygon fill="#ffaa00" points="276.1,180.9 329.1,180.9 329.1,225.1 314.8,226.4 307.9,225.1 299.6,226.4 296.8,225.1 301.0,223.7 299.6,219.5 294.1,218.1 291.3,214.7 284.4,211.9 276.1,210.6"/><polygon fill="#fcd37f" points="276.1,180.9 329.1,180.9 329.1,212.6 317.5,216.8 307.9,218.1 299.6,215.4 294.1,209.9 285.8,204.3 277.5,203.0"/><polygon fill="#ffff00" points="276.1,180.9 329.1,180.9 329.1,208.5 318.9,205.7 313.4,214.0 306.5,214.7 299.6,207.1 291.3,200.9 281.6,198.8 276.8,201.6"/><polygon fill="#ffffff" points="280.2,180.9 329.1,180.9 329.1,200.2 320.3,198.8 318.9,205.7 314.8,205.7 310.6,197.4 302.3,195.4 291.3,193.3 283.0,187.8"/><polygon fill="#ffaa00" points="276.1,233.3 280.2,231.3 288.5,229.9 296.8,229.2 307.9,230.6 316.2,231.3 318.9,233.3 314.8,236.8 307.9,234.7 299.6,233.3 291.3,234.7 283.0,237.5 278.2,238.2"/><polygon fill="#730000" points="253.3,243.0 254.7,238.2 258.1,238.9 259.5,244.4 257.5,249.2 254.0,247.8"/><polygon fill="#ffaa00" points="307.9,263.7 313.4,256.8 320.3,252.7 329.1,252.0 329.1,265.1 316.2,265.1"/><polygon fill="#730000" points="220.9,255.4 233.3,255.4 249.9,259.6 250.6,267.9 248.5,276.2 247.1,289.1 220.9,289.1"/><polygon fill="#ffaa00" points="266.4,270.6 269.2,265.8 277.5,265.1 284.4,267.9 286.5,273.4 281.6,280.3 278.9,289.1 267.8,289.1 266.4,278.9"/><polygon fill="#ffaa00" points="295.4,280.3 329.1,280.3 329.1,289.1 295.4,289.1"/></g><g clip-path="url(#t8)"><polygon fill="#ffffff" points="320.9,180.9 429.1,180.9 429.1,289.1 320.9,289.1"/><polygon fill="#ffff00" points="320.9,196.0 338.8,197.4 352.6,198.8 358.1,194.7 360.9,189.1 361.6,180.9 365.1,180.9 366.4,193.3 373.3,197.4 380.2,200.2 384.4,207.1 388.5,212.6 394.1,218.1 394.1,223.7 388.5,226.4 383.0,230.6 377.5,234.7 370.6,238.2 365.1,240.2 360.9,243.0 356.8,248.5 358.1,252.7 365.1,255.4 366.4,259.6 363.7,265.1 360.9,270.6 365.1,276.2 377.5,278.9 380.2,281.7 377.5,289.1 338.8,289.1 338.1,281.7 320.9,281.7"/><polygon fill="#fcd37f" points="320.9,205.7 338.8,204.3 352.6,203.0 362.3,200.2 365.1,194.7 366.4,205.7 370.6,207.1 380.2,211.2 385.8,218.1 383.0,225.1 377.5,229.2 369.2,233.3 365.1,237.5 359.5,241.6 352.6,245.8 345.7,251.3 344.3,256.8 349.9,258.2 358.1,256.8 365.1,255.4 362.3,262.3 362.3,269.3 366.4,274.8 360.9,277.5 347.1,278.9 338.8,280.3 320.9,280.3"/><polygon fill="#ffaa00" points="320.9,212.6 338.8,211.2 352.6,208.5 363.7,205.7 367.8,207.1 367.8,219.5 366.4,227.8 363.7,233.3 360.9,238.9 352.6,243.0 345.7,247.2 341.6,254.1 343.0,259.6 352.6,262.3 360.9,265.1 362.3,270.6 359.5,276.2 338.8,277.5 320.9,278.9"/><polygon fill="#e60000" points="320.9,220.9 329.1,221.6 334.7,225.1 340.2,227.8 347.1,230.6 354.0,227.8 358.1,227.8 358.8,230.6 356.8,233.3 349.9,236.1 344.3,240.2 337.4,247.2 333.3,254.1 330.5,262.3 327.8,269.3 320.9,273.4"/><polygon fill="#ffaa00" points="326.4,236.8 330.5,234.7 337.4,235.4 338.1,238.9 334.7,243.0 331.9,241.6 327.8,240.2"/><polygon fill="#ffaa00" points="320.9,251.3 329.1,251.3 329.1,262.3 320.9,265.1"/><polygon fill="#ffff00" points="380.2,276.2 383.0,269.3 388.5,267.2 394.1,267.9 392.7,273.4 396.8,278.9 394.1,281.7 383.0,281.7"/><polygon fill="#ffff00" points="409.9,261.7 413.4,258.2 418.9,256.1 417.5,260.3 412.0,263.7"/></g><g clip-path="url(#t9)"><polygon fill="#ffff00" points="463.0,274.1 465.1,268.6 469.2,269.3 472.0,271.3 467.8,274.1"/><polygon fill="#ffff00" points="496.1,270.6 496.8,267.9 502.3,267.2 507.9,268.6 508.6,272.0 503.7,273.4 496.8,273.4"/><polygon fill="#ffff00" points="512.7,256.1 516.2,251.3 521.7,248.5 529.1,247.2 529.1,251.3 520.3,254.8 514.8,257.5"/><polygon fill="#ffff00" points="469.2,289.1 472.0,282.4 474.7,289.1"/></g><g clip-path="url(#t10)"><polygon fill="#ffff00" points="551.2,289.1 559.5,273.4 566.4,269.3 577.5,266.5 584.4,262.3 591.3,254.1 598.2,244.4 607.9,237.5 618.9,233.3 629.1,232.0 629.1,289.1"/><polygon fill="#fcd37f" points="556.8,289.1 565.1,273.4 573.3,270.6 581.6,267.9 588.5,261.0 596.8,254.1 607.9,251.3 614.8,247.2 621.7,240.2 629.1,236.1 629.1,289.1"/><polygon fill="#ffaa00" points="573.3,289.1 579.6,274.8 584.4,269.3 591.3,263.7 599.6,259.6 603.0,260.3 599.6,265.1 605.1,269.3 610.6,269.3 613.4,262.3 614.8,252.7 620.3,248.5 629.1,247.2 629.1,289.1"/></g><g clip-path="url(#t11)"><polygon fill="#ffffff" points="589.0,180.0 719.0,180.0 719.0,310.0 589.0,310.0"/><polygon fill="#ffff00" points="628.0,180.0 673.6,180.0 671.9,193.3 666.9,196.6 663.6,199.9 666.9,206.5 660.3,209.9 648.7,212.3 645.4,214.0 643.7,201.6 638.8,193.3 628.8,192.5"/><polygon fill="#ffff00" points="643.7,214.0 663.6,209.9 670.2,206.5 676.9,208.2 673.6,216.5 666.9,221.5 660.3,224.8 652.0,227.3 647.0,231.4 643.7,234.7 642.1,228.1 643.7,218.1"/><polygon fill="#ffffff" points="648.7,218.1 653.7,215.7 663.6,209.9 670.2,209.9 669.4,218.1 665.3,221.5 657.0,224.8 649.5,226.4 650.4,221.5"/><polygon fill="#ffff00" points="643.7,237.2 648.7,233.1 657.0,229.8 663.6,226.4 666.9,225.6 660.3,230.6 652.0,234.7"/><polygon fill="#ffff00" points="589.0,251.3 603.9,239.7 613.9,236.4 623.8,231.4 628.8,228.1 633.8,225.6 638.8,219.8 643.7,214.8 645.4,234.7 635.4,239.7 627.1,248.0 618.9,256.3 603.9,259.6 589.0,262.9"/><polygon fill="#fcd37f" points="589.0,257.9 603.9,254.6 613.9,251.3 622.2,238.0 628.8,229.8 633.8,228.1 643.7,226.4 645.4,233.1 642.1,241.4 643.7,251.3 642.1,261.2 638.8,267.9 635.4,272.8 633.8,287.8 630.5,297.7 627.1,310.0 589.0,310.0"/><polygon fill="#ffaa00" points="615.5,253.0 618.9,248.0 623.8,247.2 626.3,251.3 625.5,257.9 622.2,261.2 617.2,259.6"/><polygon fill="#ffaa00" points="589.0,262.9 600.6,259.6 603.9,262.9 597.3,266.2 589.0,267.9"/><polygon fill="#ffaa00" points="589.0,266.2 603.9,267.9 612.2,271.2 613.9,277.8 617.2,287.8 622.2,297.7 627.1,310.0 589.0,310.0"/><polygon fill="#ffaa00" points="612.2,271.2 613.9,264.6 618.9,261.2 623.8,259.6 625.5,264.6 622.2,271.2 620.5,277.8 615.5,277.8"/><polygon fill="#ffff00" points="625.5,264.6 629.6,264.6 633.8,271.2 636.3,276.2 633.8,277.8 628.8,277.8 626.3,272.8"/><polygon fill="#ffaa00" points="628.8,284.4 633.8,286.1 635.4,292.7 632.1,299.4 629.6,292.7"/><polygon fill="#fcd37f" points="662.0,198.3 670.2,193.3 675.2,196.6 673.6,203.2 668.6,206.5 663.6,204.9"/><polygon fill="#ffaa00" points="651.2,180.0 671.9,180.0 670.2,190.0 660.3,190.8 652.0,190.0"/></g><g clip-path="url(#t12)"><polygon fill="#ffff00" points="20.9,280.9 129.1,280.9 129.1,389.1 20.9,389.1"/><polygon fill="#ffffff" points="20.9,280.9 31.9,280.9 56.8,280.9 58.1,290.5 65.1,296.0 66.4,305.7 66.4,314.0 65.1,319.5 69.2,325.1 77.5,326.4 83.0,322.3 88.5,320.9 96.8,330.6 102.3,340.2 110.6,351.3 114.1,361.0 110.6,367.9 99.6,370.6 96.8,373.4 88.5,373.4 85.8,367.9 84.4,362.3 88.5,349.9 85.8,347.8 83.0,351.3 80.2,358.2 77.5,359.6 20.9,359.6"/><polygon fill="#ffff00" points="31.9,280.9 38.1,280.9 37.4,290.5 34.7,294.7 31.9,290.5"/><polygon fill="#fcd37f" points="105.1,280.9 129.1,280.9 129.1,314.0 121.7,309.9 118.9,305.7 113.4,303.0 107.9,296.0"/><polygon fill="#fcd37f" points="121.0,337.5 122.4,325.1 129.1,322.3 129.1,340.2"/></g><g clip-path="url(#t13)"><polygon fill="#ffaa00" points="120.9,280.9 229.1,280.9 229.1,389.1 120.9,389.1"/><polygon fill="#fcd37f" points="120.9,280.9 130.5,280.9 137.4,290.5 136.0,298.8 135.4,308.5 152.6,312.6 160.9,314.7 173.3,316.8 180.2,318.8 187.2,326.4 189.9,334.7 188.5,344.4 187.2,354.1 183.0,359.6 180.2,367.9 181.6,376.2 183.0,389.1 170.6,389.1 166.4,380.3 156.8,376.2 149.9,376.2 147.1,365.1 145.7,361.0 138.8,360.3 134.7,365.1 133.3,374.8 130.5,389.1 120.9,389.1"/><polygon fill="#e60000" points="143.0,280.9 205.1,280.9 202.3,293.3 201.0,304.3 200.3,316.8 194.1,318.1 184.4,315.4 176.1,311.2 170.6,304.3 167.8,298.8 165.1,294.7 160.9,290.5 156.8,291.9 152.6,297.4 147.1,298.8 144.3,293.3"/><polygon fill="#fcd37f" points="154.0,307.1 155.4,298.8 159.5,294.7 163.7,296.0 166.4,300.2 167.8,305.7 165.1,309.2 159.5,309.2"/><polygon fill="#e60000" points="202.3,280.9 229.1,280.9 229.1,332.0 218.9,337.5 210.6,341.6 202.3,343.0 199.6,337.5 202.3,329.2 201.0,322.3 199.6,318.1 202.3,312.6"/><polygon fill="#ffaa00" points="208.6,300.2 210.6,293.3 216.2,289.8 229.1,289.1 229.1,305.7 218.9,307.1 212.0,305.7"/><polygon fill="#fcd37f" points="212.0,297.4 216.2,292.6 221.7,293.3 223.8,298.8 221.7,304.3 216.2,305.0"/><polygon fill="#ffaa00" points="203.7,312.6 206.5,307.8 212.0,308.5 221.7,312.6 223.1,318.1 217.5,319.5 207.9,318.1"/><polygon fill="#730000" points="215.5,310.6 218.2,307.8 223.1,308.5 223.8,311.9 218.9,312.6"/><polygon fill="#730000" points="220.3,280.9 229.1,280.9 229.1,288.5 221.7,287.1"/><polygon fill="#e60000" points="194.8,365.1 198.2,362.3 203.7,363.7 206.5,367.9 206.5,373.4 203.7,374.8 202.3,370.6 198.2,367.9"/><polygon fill="#e60000" points="211.3,356.8 214.8,354.8 217.5,357.5 220.3,355.4 229.1,354.1 229.1,373.4 221.7,370.6 216.2,366.5 213.4,362.3"/><polygon fill="#ffff00" points="120.9,314.0 127.8,316.8 129.1,322.3 120.9,323.7"/><polygon fill="#ffff00" points="120.9,343.0 127.8,345.8 129.1,354.1 127.8,367.9 129.1,381.7 120.9,389.1"/></g><g clip-path="url(#t14)"><polygon fill="#ffaa00" points="220.9,280.9 329.1,280.9 329.1,389.1 220.9,389.1"/><polygon fill="#e60000" points="220.9,280.9 270.6,280.9 266.4,287.8 255.4,289.1 245.7,291.9 238.8,297.4 234.7,303.0 230.5,301.6 220.9,297.4"/><polygon fill="#730000" points="220.9,280.9 247.1,280.9 244.3,289.1 238.8,293.3 233.3,292.6 220.9,289.1"/><polygon fill="#e60000" points="278.9,280.9 294.1,280.9 292.7,287.1 283.0,287.1"/><polygon fill="#fcd37f" points="252.6,296.0 256.8,291.2 265.1,290.5 272.0,296.0 273.3,303.0 269.2,307.1 260.9,307.8 254.0,304.3"/><polygon fill="#ffff00" points="255.4,298.8 259.5,296.0 265.7,296.7 267.1,301.6 263.7,305.0 258.1,304.3"/><polygon fill="#fcd37f" points="287.8,298.8 291.3,293.3 302.3,290.5 313.4,291.9 314.1,297.4 307.9,303.0 299.6,305.7 291.3,307.1 288.5,303.6"/><polygon fill="#fcd37f" points="320.3,287.8 329.1,280.9 329.1,290.5 321.7,289.8"/><polygon fill="#fcd37f" points="302.3,322.3 306.5,317.5 316.2,316.1 329.1,316.8 329.1,326.4 314.8,326.4 305.1,325.7"/><polygon fill="#e60000" points="220.9,307.1 233.3,307.1 236.7,312.6 237.4,320.9 233.3,326.4 220.9,329.2"/><polygon fill="#fcd37f" points="236.0,307.1 238.8,304.3 243.0,307.1 245.7,316.8 247.1,325.1 243.0,326.4 238.8,323.7"/><polygon fill="#e60000" points="247.8,312.6 251.2,310.6 260.9,311.9 269.2,316.8 278.9,323.7 287.2,326.4 299.6,329.2 295.4,333.3 287.2,336.1 278.9,337.5 270.6,336.1 259.5,330.6 255.4,337.5 249.2,336.1 247.1,329.2"/><polygon fill="#730000" points="249.2,316.8 251.2,315.4 254.0,318.1 254.0,323.7 250.6,325.1"/><polygon fill="#e60000" points="305.1,334.7 310.6,332.0 317.5,331.3 314.8,336.1 307.9,338.2"/><polygon fill="#fcd37f" points="234.0,343.0 237.4,338.2 247.1,341.6 256.8,345.8 258.8,351.3 256.8,356.8 247.1,359.6 237.4,355.4 234.0,349.9"/><polygon fill="#e60000" points="291.3,359.6 294.1,354.1 298.2,348.5 307.9,345.8 318.9,344.4 329.1,343.0 329.1,356.8 320.3,359.6 313.4,359.6 306.5,362.3 298.2,365.8 293.4,363.7"/><polygon fill="#e60000" points="312.0,380.3 318.9,370.6 321.7,365.1 329.1,359.6 329.1,389.1 313.4,389.1"/><polygon fill="#e60000" points="220.9,365.1 227.1,367.9 227.8,372.0 220.9,374.8"/><polygon fill="#fcd37f" points="252.6,389.1 259.5,378.9 270.6,374.8 273.3,389.1"/></g><g clip-path="url(#t15)"><polygon fill="#ffffff" points="320.9,280.9 429.1,280.9 429.1,389.1 320.9,389.1"/><polygon fill="#ffff00" points="338.8,280.9 355.4,290.5 360.2,294.7 359.5,301.6 354.7,307.1 360.9,315.4 369.2,320.9 377.5,325.1 387.2,325.7 392.7,332.0 394.1,337.5 402.3,333.3 410.6,334.7 421.7,332.0 429.1,327.8 429.1,389.1 320.9,389.1 320.9,280.9"/><polygon fill="#fcd37f" points="320.9,290.5 338.8,287.8 352.6,291.9 354.7,300.2 352.6,311.2 344.3,316.1 334.7,319.5 340.2,322.3 352.6,326.4 369.2,330.6 385.8,332.7 383.0,340.2 378.9,348.5 389.9,340.2 402.3,340.2 410.6,339.6 429.1,338.2 429.1,389.1 320.9,389.1"/><polygon fill="#ffaa00" points="320.9,291.9 331.9,291.2 340.2,296.0 348.5,304.3 349.9,309.9 344.3,314.0 333.3,316.8 320.9,316.8"/><polygon fill="#ffaa00" points="320.9,326.4 331.9,327.8 333.3,333.3 330.5,341.6 320.9,343.0"/><polygon fill="#ffaa00" points="378.9,347.2 381.6,342.3 385.8,340.2 384.4,345.8 380.2,349.9"/><polygon fill="#ffaa00" points="320.9,352.7 333.3,345.8 341.6,341.6 352.6,340.2 359.5,344.4 360.9,351.3 355.4,356.8 347.1,361.0 340.2,367.9 333.3,374.8 320.9,378.9"/><polygon fill="#e60000" points="320.9,358.2 333.3,349.9 343.0,345.8 352.6,344.4 359.5,347.2 358.8,352.7 349.9,358.2 341.6,365.1 334.7,372.0 327.8,376.2 320.9,374.8"/><polygon fill="#e60000" points="320.9,343.0 327.1,344.4 326.7,347.2 320.9,347.8"/><polygon fill="#ffff00" points="355.4,369.3 360.9,365.1 365.1,359.6 372.0,358.2 377.5,362.3 389.9,362.3 391.3,370.6 389.9,378.9 383.0,381.7 373.3,389.1 369.2,389.1 370.6,374.8 366.4,367.9 359.5,370.6"/><polygon fill="#ffaa00" points="392.7,370.6 396.8,362.3 399.6,354.1 402.3,343.0 407.9,340.2 429.1,338.9 429.1,389.1 389.9,389.1 391.3,378.9"/><polygon fill="#e60000" points="402.3,367.9 406.5,356.8 405.1,347.2 407.9,341.6 429.1,339.6 429.1,389.1 402.3,389.1 399.6,378.9"/><polygon fill="#730000" points="412.0,345.8 417.5,343.0 421.7,340.2 429.1,339.6 429.1,349.9 421.7,352.7 420.3,361.0 417.5,361.0 416.2,352.7 413.4,349.9"/><polygon fill="#730000" points="407.9,364.4 412.0,363.0 414.8,364.4 413.4,367.2 408.6,366.5"/><polygon fill="#e60000" points="377.5,389.1 383.0,381.7 391.3,380.3 391.3,389.1"/></g><g clip-path="url(#t16)"><polygon fill="#ffffff" points="420.9,280.9 529.1,280.9 529.1,389.1 420.9,389.1"/><polygon fill="#ffff00" points="420.9,329.2 433.3,322.3 441.6,319.5 452.6,316.8 458.1,312.6 462.3,303.0 465.1,293.3 469.2,280.9 477.5,280.9 478.9,294.7 485.8,293.3 496.8,290.5 507.9,289.1 514.8,287.8 529.1,289.1 529.1,389.1 420.9,389.1"/><polygon fill="#fcd37f" points="420.9,332.0 433.3,327.8 445.7,325.1 455.4,322.3 459.5,314.0 466.4,307.1 474.7,300.2 480.2,297.4 487.2,300.2 496.8,304.3 502.3,298.8 510.6,296.0 518.9,293.3 529.1,292.6 529.1,389.1 420.9,389.1"/><polygon fill="#ffaa00" points="420.9,334.7 433.3,330.6 445.7,327.8 452.6,326.4 458.1,323.7 469.2,320.9 483.0,316.8 491.3,314.0 502.3,312.6 518.9,314.0 524.4,318.1 520.3,325.1 521.7,329.2 529.1,330.6 529.1,389.1 420.9,389.1"/><polygon fill="#fcd37f" points="518.9,323.7 529.1,320.9 529.1,336.1 521.7,333.3 520.3,329.2"/><polygon fill="#e60000" points="420.9,337.5 436.0,333.3 447.1,332.0 458.1,329.2 465.1,325.1 472.0,323.7 483.0,320.9 488.5,326.4 496.8,329.2 499.6,334.7 494.1,343.0 487.2,352.7 480.2,359.6 473.3,358.2 463.7,355.4 455.4,351.3 448.5,352.7 443.0,358.2 438.8,363.7 431.9,366.5 420.9,367.9"/><polygon fill="#730000" points="420.9,340.2 429.1,338.9 432.6,340.2 433.3,345.8 436.0,347.2 441.6,346.5 443.6,349.9 440.2,355.4 434.7,356.8 430.5,354.1 427.8,351.3 420.9,351.3"/><polygon fill="#e60000" points="507.9,362.3 510.6,354.1 516.2,343.0 520.3,336.1 529.1,337.5 529.1,362.3 518.9,363.7"/><polygon fill="#e60000" points="438.8,389.1 440.2,378.9 445.7,376.2 452.6,374.8 460.9,377.5 465.1,389.1"/><polygon fill="#730000" points="448.5,377.5 451.2,376.2 453.3,378.2 451.2,380.3 449.2,379.6"/><polygon fill="#fcd37f" points="469.2,373.4 472.0,367.9 477.5,366.5 481.6,369.3 483.0,376.2 488.5,377.5 496.8,374.8 503.7,376.2 506.5,381.7 505.1,389.1 480.2,389.1 470.6,380.3"/></g><g clip-path="url(#t17)"><polygon fill="#ffaa00" points="520.9,280.9 629.1,280.9 629.1,389.1 520.9,389.1"/><polygon fill="#ffff00" points="520.9,280.9 555.4,280.9 552.6,287.8 545.7,290.5 536.0,291.9 520.9,293.3"/><polygon fill="#ffffff" points="537.4,280.9 552.6,280.9 548.5,287.1 540.2,287.8"/><polygon fill="#fcd37f" points="520.9,293.3 536.0,291.9 545.7,290.5 552.6,287.8 558.1,280.9 572.0,280.9 573.3,293.3 570.6,297.4 559.5,298.8 554.0,301.6 551.2,308.5 544.3,318.1 543.0,325.1 548.5,326.4 547.1,333.3 541.6,340.2 533.3,344.4 520.9,343.0"/><polygon fill="#fcd37f" points="620.3,325.1 619.6,312.6 621.7,304.3 629.1,303.0 629.1,325.1"/><polygon fill="#e60000" points="580.9,324.4 584.4,320.9 594.1,319.5 601.0,315.4 610.6,314.0 616.9,315.4 616.9,323.7 613.4,327.8 607.9,330.6 603.7,332.0 598.2,329.2 595.4,325.1 589.9,325.1 583.0,325.7"/><polygon fill="#e60000" points="520.9,345.8 533.3,340.2 543.0,336.1 555.4,330.6 563.7,327.8 572.0,329.2 578.9,334.7 580.2,343.0 585.8,347.2 592.7,349.9 591.3,354.1 585.8,355.4 580.2,351.3 573.3,347.2 569.2,343.0 565.1,341.6 566.4,351.3 566.4,362.3 562.3,369.3 555.4,372.0 545.7,377.5 536.0,381.7 520.9,381.7"/><polygon fill="#ffaa00" points="564.4,340.2 567.8,338.9 571.3,343.0 569.2,345.8 565.7,344.4"/><polygon fill="#e60000" points="570.6,389.1 577.5,380.3 585.8,380.3 594.1,378.9 596.8,389.1"/></g><g clip-path="url(#t18)"><polygon fill="#ffaa00" points="589.0,280.0 719.0,280.0 719.0,410.0 589.0,410.0"/><polygon fill="#fcd37f" points="618.9,324.8 619.7,306.5 632.1,304.9 637.1,318.1 630.5,323.1"/><polygon fill="#e60000" points="589.0,319.8 600.6,315.7 610.6,314.0 617.2,314.8 617.2,326.4 610.6,329.8 603.9,333.1 597.3,329.8 589.0,328.1"/><polygon fill="#e60000" points="589.0,377.8 599.0,374.5 602.3,376.2 597.3,384.4 589.0,384.4"/></g><g clip-path="url(#t19)"><polygon fill="#ffaa00" points="100.0,380.0 230.0,380.0 230.0,510.0 100.0,510.0"/><polygon fill="#ffff00" points="100.0,380.0 128.2,380.0 126.5,389.1 119.9,388.3"/><polygon fill="#fcd37f" points="138.1,392.5 148.1,394.9 153.1,388.3 168.0,380.0 187.9,380.0 188.7,401.6 187.9,413.2 158.0,409.9 148.1,401.6"/><polygon fill="#fcd37f" points="129.9,392.5 136.5,391.6 140.6,396.6 134.8,398.3"/><polygon fill="#ffff00" points="158.0,399.9 164.7,394.9 176.3,391.6 184.6,393.3 187.9,398.3 184.6,404.9 181.2,412.3 158.0,409.9"/><polygon fill="#ffffff" points="163.0,408.2 169.6,399.9 174.6,393.3 177.9,398.3 177.9,410.7"/><polygon fill="#fcd37f" points="206.1,398.3 211.1,393.3 219.4,390.0 230.0,389.1 230.0,411.5 209.4,409.9"/><polygon fill="#ffff00" points="209.4,404.9 214.4,398.3 221.0,394.9 230.0,394.1 230.0,411.5 211.1,409.9"/></g><g clip-path="url(#t20)"><polygon fill="#fcd37f" points="220.9,380.9 329.1,380.9 329.1,489.1 220.9,489.1"/><polygon fill="#ffaa00" points="220.9,380.9 254.0,380.9 254.7,389.1 251.2,393.3 243.0,395.4 236.0,391.9 220.9,390.5"/><polygon fill="#ffff00" points="220.9,396.0 229.1,398.8 233.3,398.8 238.8,400.2 241.6,403.0 237.4,405.7 230.5,405.0 220.9,405.7"/><polygon fill="#ffff00" points="226.4,411.2 231.9,409.9 238.8,412.6 241.6,418.1 237.4,423.7 233.3,420.9 227.8,415.4"/><polygon fill="#ffaa00" points="260.9,391.9 263.7,389.1 266.4,391.9 267.8,398.8 269.2,405.7 270.6,409.9 266.4,410.6 262.3,404.3"/><polygon fill="#ffaa00" points="274.0,380.9 329.1,380.9 321.7,390.5 316.2,393.3 309.3,397.4 307.9,403.0 302.3,407.1 294.1,412.6 289.9,416.8 283.0,416.8 277.5,409.9 274.7,398.8"/><polygon fill="#ffff00" points="285.8,425.1 289.9,420.9 296.8,414.0 305.1,409.9 313.4,404.3 320.3,394.7 329.1,391.9 329.1,456.8 314.8,458.2 305.1,456.8 301.0,449.9 299.6,440.2 294.1,434.7 289.9,430.6"/><polygon fill="#ffffff" points="287.2,425.1 291.3,420.9 299.6,415.4 307.9,411.2 316.2,405.7 321.7,397.4 329.1,396.0 329.1,443.0 317.5,448.5 307.9,454.1 303.7,447.2 305.1,440.2 296.8,433.3 291.3,429.2"/><polygon fill="#ffaa00" points="272.0,426.4 274.7,424.4 279.6,426.4 280.2,429.2 276.1,430.6 272.7,429.2"/><polygon fill="#ffaa00" points="245.7,430.6 247.1,425.1 249.9,421.6 252.6,423.7 251.2,430.6 252.6,436.1 256.8,440.2 266.4,440.2 276.1,437.5 280.2,434.7 288.5,434.7 289.9,440.2 288.5,445.8 280.2,447.2 247.1,447.2"/><polygon fill="#e60000" points="247.1,447.2 259.5,444.4 273.3,442.3 280.2,444.4 287.2,445.8 288.5,448.5 280.2,448.5 274.7,449.9 270.6,456.8 266.4,461.0 258.1,455.4 249.9,449.9"/><polygon fill="#730000" points="256.8,454.8 262.3,454.1 269.2,455.4 267.8,460.3 265.1,461.0 259.5,458.2"/><polygon fill="#ffaa00" points="301.7,458.2 310.6,458.2 329.1,456.8 329.1,489.1 310.6,489.1 305.1,467.9"/><polygon fill="#e60000" points="303.7,462.3 313.4,461.0 321.7,459.6 329.1,458.2 329.1,489.1 313.4,489.1 307.9,473.4"/><polygon fill="#730000" points="318.9,473.4 321.7,469.9 329.1,469.3 329.1,480.3 321.7,478.9"/></g><g clip-path="url(#t21)"><polygon fill="#ffaa00" points="320.9,380.9 429.1,380.9 429.1,489.1 320.9,489.1"/><polygon fill="#fcd37f" points="320.9,380.9 370.6,380.9 373.3,393.3 372.0,404.3 365.1,409.9 359.5,416.8 355.4,425.1 348.5,430.6 338.8,436.1 331.9,443.0 320.9,452.7"/><polygon fill="#ffff00" points="320.9,390.5 333.3,387.1 359.5,386.4 366.4,380.9 372.0,396.0 369.2,404.3 359.5,407.1 352.6,412.6 349.9,420.9 345.7,427.8 336.0,434.7 330.5,440.2 320.9,449.9"/><polygon fill="#ffffff" points="320.9,393.3 336.0,390.5 352.6,389.1 362.3,389.1 363.7,396.0 360.9,403.0 352.6,404.3 343.0,405.0 341.6,412.6 340.2,419.5 334.7,429.2 330.5,434.7 320.9,440.2"/><polygon fill="#ffff00" points="334.7,427.8 340.2,420.9 343.0,414.0 342.3,405.7 351.2,405.0 360.2,405.7 358.1,412.6 354.0,418.1 348.5,425.1 341.6,429.2"/><polygon fill="#e60000" points="373.3,380.9 396.8,380.9 396.8,396.0 394.1,401.6 388.5,400.2 383.0,403.0 381.6,408.5 374.7,414.0 369.2,415.4 367.8,412.6 372.0,405.7 373.3,396.0"/><polygon fill="#e60000" points="396.8,380.9 429.1,380.9 429.1,432.0 413.4,430.6 407.9,425.1 405.1,416.8 402.3,409.9 399.6,405.7 398.2,396.0"/><polygon fill="#ffaa00" points="396.8,389.1 402.3,386.4 407.9,387.8 406.5,393.3 399.6,393.3"/><polygon fill="#fcd37f" points="363.7,433.3 369.2,429.2 376.1,425.1 377.5,427.8 372.0,432.0 366.4,436.1"/><polygon fill="#fcd37f" points="387.2,429.2 394.1,425.1 402.3,425.1 405.1,427.8 402.3,432.0 394.1,432.0 388.5,432.0"/><polygon fill="#e60000" points="377.5,437.5 383.0,433.3 391.3,431.3 399.6,429.2 403.7,432.0 403.7,440.2 402.3,448.5 395.4,454.1 391.3,452.7 391.3,443.0 385.8,440.2 380.2,440.2"/><polygon fill="#fcd37f" points="407.9,441.6 413.4,437.5 421.7,433.3 429.1,433.3 429.1,444.4 418.9,443.0 412.0,443.0"/><polygon fill="#ffff00" points="403.7,449.9 407.9,447.8 416.2,447.2 416.9,452.7 407.9,452.7"/><polygon fill="#e60000" points="337.4,445.8 343.0,440.2 352.6,436.8 360.9,438.9 366.4,444.4 363.7,448.5 355.4,449.9 348.5,454.1 344.3,455.4 344.3,449.9"/><polygon fill="#e60000" points="358.1,429.9 360.9,428.1 362.3,430.6 359.5,432.0"/><polygon fill="#fcd37f" points="369.2,449.9 374.7,444.4 383.0,441.6 388.5,444.4 389.9,451.3 387.2,456.8 380.2,458.2 372.0,455.4"/><polygon fill="#ffff00" points="372.0,449.2 377.5,446.5 384.4,447.2 385.8,451.3 380.2,452.7 373.3,452.0"/><polygon fill="#e60000" points="320.9,459.6 333.3,456.8 338.8,459.6 347.1,461.0 356.8,458.2 365.1,456.8 369.2,459.6 370.6,465.1 366.4,470.6 360.9,473.4 355.4,476.2 352.6,481.7 347.1,481.7 338.8,478.9 331.9,481.7 320.9,481.7"/><polygon fill="#730000" points="320.9,470.6 330.5,467.9 336.0,469.3 336.7,474.8 333.3,478.9 327.8,480.3 320.9,478.9"/><polygon fill="#ffaa00" points="334.7,481.7 341.6,478.9 352.6,478.9 354.0,489.1 334.7,489.1"/><polygon fill="#ffaa00" points="359.5,466.5 365.1,463.7 366.4,466.5 362.3,469.3"/></g><g clip-path="url(#t22)"><polygon fill="#e60000" points="420.9,380.9 529.1,380.9 529.1,489.1 420.9,489.1"/><polygon fill="#ffaa00" points="420.9,404.3 429.1,401.6 434.7,402.3 435.4,407.1 430.5,409.2 420.9,408.5"/><polygon fill="#ffaa00" points="440.2,404.3 444.3,401.6 449.9,402.3 450.6,405.7 445.7,407.1 440.9,407.1"/><polygon fill="#ffaa00" points="436.0,423.7 445.7,419.5 454.0,416.8 458.1,405.7 463.7,398.8 472.0,394.7 474.7,396.0 476.1,412.6 477.5,420.9 480.2,423.7 491.3,425.1 494.1,429.2 496.8,434.7 487.2,437.5 473.3,440.2 465.1,438.9 459.5,440.2 452.6,443.0 438.8,445.8 430.5,448.5 420.9,449.9 420.9,430.6 433.3,429.2"/><polygon fill="#fcd37f" points="456.8,426.4 462.3,422.3 470.6,419.5 474.7,418.1 473.3,423.7 467.8,427.8 463.7,432.0 459.5,430.6"/><polygon fill="#fcd37f" points="420.9,432.0 434.7,429.9 441.6,427.8 449.9,429.2 456.8,430.6 458.1,433.3 452.6,437.5 445.7,443.0 436.0,445.8 430.5,448.5 420.9,449.9"/><polygon fill="#ffff00" points="434.7,440.2 437.4,433.3 443.0,432.0 447.1,434.0 447.8,437.5 441.6,441.6 436.0,443.7"/><polygon fill="#ffaa00" points="465.1,380.9 510.6,380.9 513.4,390.5 507.9,396.0 502.3,403.0 496.8,400.2 492.7,390.5 484.4,387.8 476.1,386.4 466.4,387.8"/><polygon fill="#fcd37f" points="492.7,380.9 510.6,380.9 512.0,389.1 507.9,392.6 501.0,393.3 494.1,389.1"/><polygon fill="#ffaa00" points="477.5,408.5 483.0,403.0 489.9,400.2 494.1,403.0 492.7,407.1 485.8,409.9 481.6,416.8 477.5,418.1"/><polygon fill="#730000" points="521.7,443.0 522.4,426.4 529.1,419.5 529.1,443.0"/></g><g clip-path="url(#t23)"><polygon fill="#e60000" points="500.0,360.0 630.0,360.0 630.0,490.0 500.0,490.0"/><polygon fill="#ffaa00" points="500.0,360.0 526.5,360.0 525.7,381.6 534.8,380.7 543.1,374.9 554.7,371.6 564.7,360.0 604.4,360.0 597.8,378.3 584.6,379.9 574.6,383.2 568.0,388.2 554.7,391.5 546.4,396.5 543.1,401.5 538.1,399.8 536.5,391.5 529.9,388.2 514.9,394.8 500.0,398.1"/><polygon fill="#fcd37f" points="500.0,383.2 510.0,384.1 513.3,388.2 510.0,392.3 500.0,393.2"/><polygon fill="#fcd37f" points="544.8,385.7 554.7,381.6 566.3,379.1 570.5,379.9 568.0,383.2 558.0,385.7 548.1,387.4"/><polygon fill="#730000" points="521.6,426.3 529.9,418.0 539.8,411.4 546.4,411.4 549.8,401.5 558.0,394.8 566.3,389.9 573.0,391.5 571.3,399.8 567.2,404.8 568.0,411.4 571.3,414.7 571.3,421.4 568.0,428.0 566.3,434.6 561.4,441.2 556.4,446.2 549.8,439.6 543.1,436.3 536.5,437.9 529.9,442.9 524.9,442.9 523.2,436.3"/><polygon fill="#ffaa00" points="569.6,457.8 574.6,451.2 584.6,449.5 591.2,449.5 594.5,454.5 596.2,461.1 599.5,471.1 601.1,490.0 592.8,490.0 591.2,472.7 584.6,466.1 574.6,466.1"/><polygon fill="#fcd37f" points="576.3,461.1 582.9,456.2 591.2,453.7 594.5,457.8 592.8,462.8 582.9,462.8"/><polygon fill="#ffaa00" points="576.3,476.0 581.2,472.7 586.2,473.6 585.4,477.7 577.9,478.5"/></g><g clip-path="url(#t24)"><polygon fill="#ffaa00" points="280.0,455.0 410.0,455.0 410.0,585.0 280.0,585.0"/><polygon fill="#e60000" points="301.6,455.0 338.0,455.0 336.4,463.3 346.3,465.0 354.6,461.7 362.9,455.0 371.2,465.0 361.2,473.3 354.6,479.9 348.0,481.5 336.4,478.2 334.7,484.9 329.8,489.8 324.8,493.1 319.8,486.5 313.2,481.5 304.9,469.9"/><polygon fill="#ffaa00" points="336.4,455.0 351.3,455.0 348.0,465.0 339.7,465.0"/><polygon fill="#ffaa00" points="359.6,467.5 364.6,464.1 367.9,465.8 364.6,468.3"/><polygon fill="#730000" points="319.0,473.3 323.1,469.9 333.1,469.1 336.4,471.6 335.6,476.6 328.1,479.1 320.6,477.4"/><polygon fill="#fcd37f" points="329.8,498.1 334.7,492.3 343.0,491.5 349.6,492.3 349.6,503.1 343.0,499.8 334.7,501.4"/><polygon fill="#fcd37f" points="323.1,504.8 329.8,503.1 338.0,508.1 334.7,511.4 326.4,508.1"/></g><g clip-path="url(#t25)"><polygon fill="#e60000" points="535.9,435.9 644.1,435.9 644.1,544.1 535.9,544.1"/><polygon fill="#730000" points="535.9,435.9 560.7,435.9 559.3,444.1 555.2,446.2 548.3,442.8 535.9,441.4"/><polygon fill="#ffaa00" points="569.0,455.2 574.5,451.0 585.6,449.7 591.1,450.4 595.2,456.6 598.0,463.5 603.5,473.1 607.7,482.8 606.3,495.2 604.9,504.9 599.4,509.1 595.2,509.1 602.2,502.2 603.5,495.2 602.2,485.6 600.8,477.3 596.6,469.0 591.1,466.2 584.2,465.6 575.9,466.2 571.8,462.1"/><polygon fill="#fcd37f" points="575.9,460.7 580.1,456.6 587.0,453.8 592.5,453.8 593.9,459.3 591.1,463.5 585.6,462.8 578.7,462.8"/><polygon fill="#ffaa00" points="577.3,474.5 581.4,472.5 585.6,472.5 585.6,477.3 578.7,478.0"/><polygon fill="#fcd37f" points="603.5,493.9 604.9,487.0 607.7,484.2 608.4,495.2 605.6,496.6"/></g><g clip-path="url(#t26)"><polygon fill="#ffaa00" points="100.9,135.9 209.1,135.9 209.1,244.1 100.9,244.1"/><polygon fill="#fcd37f" points="100.9,135.9 131.9,135.9 131.2,145.5 125.7,149.7 117.4,150.4 110.5,149.7 100.9,151.0"/><polygon fill="#ffff00" points="100.9,135.9 111.2,135.9 109.8,144.1 106.4,145.5 100.9,144.8"/><polygon fill="#fcd37f" points="123.0,153.8 132.6,148.3 149.2,142.8 150.6,135.9 201.7,135.9 198.9,148.3 200.3,158.0 194.8,167.6 186.5,169.0 179.6,169.7 172.7,173.1 171.3,185.6 172.7,192.5 169.9,200.8 160.2,203.5 146.4,203.5 134.0,204.9 129.9,206.3 118.8,200.8 100.9,200.8 100.9,174.5 116.0,171.8 124.3,167.6 127.1,160.7"/><polygon fill="#ffaa00" points="100.9,152.4 113.3,151.0 123.0,152.4 128.5,155.2 132.6,160.7 124.3,167.6 117.4,171.8 100.9,174.5"/><polygon fill="#ffaa00" points="131.9,135.9 146.4,135.9 146.4,148.3 140.9,153.8 132.6,155.2 131.2,148.3"/><polygon fill="#ffff00" points="135.4,171.8 139.5,166.2 147.8,164.9 154.7,160.7 156.1,148.3 150.6,135.9 187.9,135.9 189.3,153.8 187.9,163.5 176.8,169.0 167.2,171.8 160.2,174.5 154.7,178.7 153.3,185.6 158.9,189.7 168.5,191.1 171.3,192.5 165.8,195.2 160.2,198.0 157.5,200.8 146.4,198.0 140.9,198.0 139.5,193.9 142.3,188.3 136.8,182.8"/><polygon fill="#ffffff" points="158.9,144.1 164.4,142.1 176.8,143.5 181.0,148.3 181.7,153.8 176.8,160.7 169.9,166.2 164.4,169.0 160.2,167.6 158.2,160.7 160.2,153.8"/><polygon fill="#ffaa00" points="129.9,181.4 131.9,180.1 134.0,182.8 134.7,188.3 133.3,191.1 131.2,188.3"/><polygon fill="#ffff00" points="100.9,185.6 113.3,184.2 123.0,182.8 127.1,185.6 131.2,192.5 134.0,198.0 132.6,204.9 128.5,206.3 121.6,200.8 113.3,199.4 100.9,199.4"/><polygon fill="#ffaa00" points="182.3,135.9 209.1,135.9 209.1,158.0 200.3,155.2 194.8,148.3 189.3,144.1"/><polygon fill="#e60000" points="194.8,135.9 209.1,135.9 209.1,142.1 198.9,142.1"/><polygon fill="#ffaa00" points="171.3,180.1 174.1,170.4 179.6,167.6 187.9,169.0 193.4,174.5 192.0,185.6 182.3,188.3 172.7,189.7"/><polygon fill="#e60000" points="174.8,180.1 176.8,174.5 182.3,173.1 187.9,175.2 189.3,180.1 187.2,185.6 179.6,187.0 175.4,185.6"/><polygon fill="#e60000" points="113.3,229.8 116.0,211.8 118.8,206.3 124.3,204.9 129.9,209.1 138.1,214.6 146.4,218.7 157.5,220.1 160.9,224.3 158.9,228.4 150.6,229.1 139.5,230.5 125.7,231.9"/><polygon fill="#730000" points="118.1,220.1 120.2,209.1 125.7,207.7 132.6,214.6 134.0,218.7 140.9,222.9 146.4,224.3 146.4,227.0 138.1,225.6 129.9,222.9 123.0,222.9"/><polygon fill="#fcd37f" points="176.8,229.8 181.0,224.3 185.1,222.9 187.9,228.4 194.8,225.6 201.7,227.0 209.1,225.6 209.1,236.7 190.6,236.7 182.3,235.3"/><polygon fill="#fcd37f" points="194.8,198.0 196.2,185.6 209.1,184.2 209.1,206.3 200.3,204.9"/></g><g clip-path="url(#t27)"><polygon fill="#e60000" points="370.9,325.9 479.1,325.9 479.1,434.1 370.9,434.1"/><polygon fill="#fcd37f" points="370.9,325.9 390.2,325.9 390.9,340.4 404.0,340.8 401.2,349.3 395.7,364.5 391.6,371.4 390.9,382.5 370.9,382.5"/><polygon fill="#ffff00" points="370.9,360.4 390.2,361.8 390.9,377.0 383.3,379.7 370.9,379.7"/><polygon fill="#ffaa00" points="379.1,349.3 383.3,342.4 388.1,341.0 387.4,345.2 383.3,349.3"/><polygon fill="#ffff00" points="380.5,339.7 383.3,332.8 390.2,325.9 433.0,325.9 427.5,335.5 419.2,339.0 402.6,340.4 390.2,340.8"/><polygon fill="#ffffff" points="390.2,325.9 424.7,325.9 420.6,334.1 410.9,336.2 397.1,338.3 391.6,338.3"/><polygon fill="#ffaa00" points="430.2,325.9 457.9,325.9 456.5,334.1 444.1,332.8 433.0,335.5 422.0,339.0"/><polygon fill="#ffaa00" points="391.6,381.1 393.0,371.4 397.1,365.9 402.6,357.6 404.0,346.6 406.8,341.7 405.4,350.7 404.0,364.5 405.4,370.1 397.1,377.0"/><polygon fill="#ffaa00" points="423.3,371.4 427.5,367.3 435.8,364.5 441.3,361.8 446.8,356.2 449.6,350.7 452.3,353.5 457.9,356.2 466.2,357.6 479.1,359.7 479.1,392.2 463.4,388.0 457.9,382.5 452.3,375.6 446.8,374.2 438.5,378.3 430.2,379.7 424.7,377.0"/><polygon fill="#e60000" points="437.2,382.5 441.3,377.0 449.6,374.2 457.9,377.0 464.8,382.5 468.9,388.0 460.6,392.2 455.1,399.1 453.7,407.3 457.9,415.6 460.6,426.7 441.3,426.7 438.5,412.9"/><polygon fill="#ffaa00" points="455.1,407.3 460.6,394.9 468.9,393.5 479.1,392.2 479.1,434.1 457.9,434.1 460.6,419.8"/><polygon fill="#fcd37f" points="468.9,371.4 471.7,366.6 479.1,365.9 479.1,377.0 471.7,376.3"/><polygon fill="#730000" points="413.0,345.2 416.4,341.0 423.3,339.7 430.2,341.0 431.6,345.2 437.2,346.6 442.7,348.0 441.3,354.9 434.4,357.6 427.5,354.9 422.0,356.2 420.6,361.8 417.8,360.4 416.4,352.1"/><polygon fill="#730000" points="407.5,364.5 410.9,362.5 415.1,363.1 414.4,366.6 408.8,366.6"/><polygon fill="#730000" points="448.2,377.7 451.0,376.3 453.7,377.7 452.3,380.4 448.9,379.7"/><polygon fill="#ffaa00" points="416.4,378.3 418.5,375.6 420.6,379.0 419.2,383.2 417.1,382.5"/><polygon fill="#ffaa00" points="397.1,390.8 402.6,386.6 409.5,388.0 410.2,392.2 402.6,393.5"/><polygon fill="#fcd37f" points="401.2,390.8 404.0,388.7 407.5,389.4 406.8,392.2 402.6,392.2"/><polygon fill="#ffaa00" points="424.7,407.3 428.9,403.2 434.4,401.8 435.8,404.6 433.0,408.7 426.1,409.4"/><polygon fill="#ffaa00" points="439.9,404.6 444.1,402.5 449.6,401.8 450.3,405.3 444.1,406.7"/><polygon fill="#ffaa00" points="370.9,411.5 381.9,407.3 386.0,400.4 391.6,399.1 397.1,401.8 398.5,407.3 404.0,412.9 405.4,423.9 401.2,434.1 370.9,434.1"/><polygon fill="#fcd37f" points="386.0,426.7 393.0,423.9 402.6,425.3 405.4,434.1 386.0,434.1"/><polygon fill="#fcd37f" points="456.5,426.7 464.8,421.2 479.1,418.4 479.1,434.1 457.9,434.1"/></g><g clip-path="url(#t28)"><polygon fill="#ffffff" points="270.9,180.9 379.1,180.9 379.1,289.1 270.9,289.1"/><polygon fill="#ffff00" points="270.9,180.9 280.5,180.9 287.4,192.6 294.3,194.7 309.5,195.4 314.4,205.0 320.6,198.8 327.5,196.0 337.2,198.1 348.2,198.1 357.9,193.3 361.3,180.9 366.2,180.9 367.5,193.3 371.7,197.4 379.1,200.2 379.1,289.1 270.9,289.1"/><polygon fill="#ffffff" points="364.8,240.2 370.3,238.9 379.1,238.9 379.1,274.8 371.7,273.4 371.7,262.3 370.3,254.1 366.2,249.9"/><polygon fill="#ffffff" points="339.9,289.1 341.3,280.3 357.9,278.9 379.1,277.5 379.1,289.1"/><polygon fill="#fcd37f" points="270.9,200.2 283.3,198.8 291.6,200.2 301.2,208.5 308.1,214.0 316.4,216.8 324.7,212.6 333.0,208.5 344.1,205.7 352.3,205.7 362.0,198.8 364.8,196.0 368.9,201.6 371.7,212.6 370.3,225.1 379.1,225.1 379.1,234.7 364.8,238.9 357.9,243.0 352.3,247.2 346.8,254.1 345.4,258.2 352.3,259.6 360.6,262.3 364.8,267.9 363.4,273.4 352.3,276.2 338.5,280.3 330.2,289.1 270.9,289.1"/><polygon fill="#ffaa00" points="270.9,205.7 283.3,205.7 295.7,211.2 304.0,218.1 316.4,219.5 330.2,211.2 344.1,208.5 355.1,207.1 363.4,205.7 366.2,212.6 364.8,226.4 362.0,233.3 357.9,237.5 352.3,240.2 346.8,245.8 341.3,252.7 335.8,259.6 334.4,262.3 346.8,259.6 355.1,259.6 360.6,263.7 359.3,270.6 352.3,274.8 339.9,278.9 330.2,289.1 270.9,289.1"/><polygon fill="#fcd37f" points="344.1,256.8 349.6,249.9 357.9,245.8 363.4,243.0 366.2,247.2 364.8,254.1 362.0,259.6 355.1,258.2 346.8,259.6"/><polygon fill="#e60000" points="270.9,211.2 283.3,211.9 290.2,214.7 297.1,218.1 300.6,221.6 299.2,225.7 302.6,229.2 309.5,230.6 316.4,229.2 323.3,226.4 326.1,222.3 330.2,220.9 335.8,225.1 339.9,229.2 346.8,230.6 355.1,227.8 358.6,229.2 356.5,233.3 352.3,237.5 346.8,241.6 341.3,247.2 335.8,254.1 333.0,262.3 330.2,270.6 326.1,280.3 324.7,289.1 270.9,289.1"/><polygon fill="#ffaa00" points="276.4,233.3 280.5,231.3 287.4,230.6 293.0,232.0 295.7,233.3 290.2,236.1 283.3,237.5 277.8,236.8"/><polygon fill="#ffaa00" points="309.5,233.3 313.7,230.6 320.6,231.3 319.2,234.7 313.7,236.1"/><polygon fill="#ffaa00" points="326.1,236.1 330.2,234.0 337.2,234.7 337.8,237.5 333.0,241.6 328.9,238.9"/><polygon fill="#ffaa00" points="308.1,262.3 313.7,256.8 320.6,252.7 328.9,251.3 330.2,256.8 327.5,263.7 320.6,265.1 310.9,265.1"/><polygon fill="#ffaa00" points="270.9,266.5 280.5,265.1 286.0,267.9 284.7,273.4 280.5,278.9 270.9,280.3"/></g><g clip-path="url(#t29)"><polygon fill="#ffaa00" points="270.9,280.9 379.1,280.9 379.1,389.1 270.9,389.1"/><polygon fill="#ffffff" points="338.5,280.9 379.1,280.9 379.1,326.4 370.3,323.7 364.8,318.1 357.9,312.6 355.1,305.7 359.3,300.2 357.9,293.3 349.6,289.1"/><polygon fill="#ffff00" points="337.2,280.9 341.3,280.9 351.0,289.8 359.3,291.9 361.3,298.8 356.5,304.3 357.9,311.2 366.2,318.1 373.1,325.1 379.1,326.4 379.1,330.6 370.3,330.6 366.2,326.4 355.1,325.1 346.8,322.3 335.8,319.5 334.4,317.5 341.3,316.1 351.0,311.2 352.3,305.7 346.8,297.4 339.9,290.5"/><polygon fill="#fcd37f" points="319.2,280.9 338.5,280.9 346.8,293.3 352.3,303.0 351.0,311.2 344.1,315.4 335.8,318.1 333.0,317.5 339.9,312.6 346.8,308.5 344.1,301.6 335.8,296.0 326.1,291.9 319.2,287.8"/><polygon fill="#fcd37f" points="301.9,320.9 305.4,316.8 316.4,316.1 327.5,317.5 335.8,319.5 346.8,321.6 357.9,325.1 379.1,330.6 379.1,334.7 357.9,332.0 344.1,330.6 333.0,330.6 320.6,329.2 308.1,326.4 302.6,325.1"/><polygon fill="#fcd37f" points="324.7,345.8 330.2,340.2 333.0,332.0 379.1,332.0 379.1,356.8 370.3,356.8 360.6,365.1 356.5,370.6 364.8,372.0 370.3,389.1 320.6,389.1 326.1,376.2 333.0,370.6 339.9,366.5 349.6,362.3 357.9,356.8 360.6,349.9 357.9,344.4 351.0,341.6 341.3,341.6 333.0,347.2 327.5,348.5"/><polygon fill="#ffff00" points="355.8,369.3 360.6,365.1 366.2,359.6 370.3,356.8 379.1,356.1 379.1,389.1 370.3,389.1 368.9,376.2 364.8,370.6 357.9,371.3"/><polygon fill="#fcd37f" points="287.4,297.4 291.6,291.9 302.6,289.8 312.3,290.5 315.1,294.7 312.3,300.2 302.6,303.0 293.0,305.7 288.8,304.3"/><polygon fill="#e60000" points="279.1,280.9 293.0,280.9 291.6,287.1 283.3,287.1"/><polygon fill="#e60000" points="270.9,322.3 280.5,325.1 288.8,327.8 299.9,329.2 295.7,333.3 288.8,336.1 281.9,337.5 277.8,336.1 270.9,334.7"/><polygon fill="#e60000" points="304.7,334.7 308.1,332.0 315.1,331.3 317.8,333.3 313.7,336.8 306.8,338.2"/><polygon fill="#e60000" points="291.6,356.8 295.7,349.9 301.2,345.8 310.9,344.4 320.6,343.0 326.1,344.4 324.7,349.9 319.2,354.1 312.3,354.1 305.4,356.8 302.6,362.3 297.1,365.8 293.0,363.7"/><polygon fill="#ffaa00" points="312.3,378.9 316.4,373.4 320.6,362.3 327.5,349.9 335.8,343.0 344.1,340.2 355.1,341.6 360.6,345.8 360.6,352.7 355.1,358.2 346.8,363.7 338.5,369.3 333.0,373.4 326.1,380.3 317.8,389.1 312.3,389.1"/><polygon fill="#e60000" points="313.0,380.3 316.4,374.8 322.0,363.7 328.9,352.7 335.8,347.2 344.1,344.4 355.1,344.4 359.3,348.5 357.9,354.1 349.6,361.0 339.9,367.9 333.0,372.0 326.1,378.9 319.2,383.1 313.7,383.1"/></g><g clip-path="url(#t30)"><polygon fill="#e60000" points="420.9,380.9 529.1,380.9 529.1,489.1 420.9,489.1"/><polygon fill="#ffaa00" points="420.9,404.3 429.1,401.6 434.7,402.3 435.4,407.1 430.5,409.2 420.9,408.5"/><polygon fill="#ffaa00" points="440.2,404.3 444.3,401.6 449.9,402.3 450.6,405.7 445.7,407.1 440.9,407.1"/><polygon fill="#ffaa00" points="436.0,423.7 445.7,419.5 454.0,416.8 458.1,405.7 463.7,398.8 472.0,394.7 474.7,396.0 476.1,412.6 477.5,420.9 480.2,423.7 491.3,425.1 494.1,429.2 496.8,434.7 487.2,437.5 473.3,440.2 465.1,438.9 459.5,440.2 452.6,443.0 438.8,445.8 430.5,448.5 420.9,449.9 420.9,430.6 433.3,429.2"/><polygon fill="#fcd37f" points="456.8,426.4 462.3,422.3 470.6,419.5 474.7,418.1 473.3,423.7 467.8,427.8 463.7,432.0 459.5,430.6"/><polygon fill="#fcd37f" points="420.9,432.0 434.7,429.9 441.6,427.8 449.9,429.2 456.8,430.6 458.1,433.3 452.6,437.5 445.7,443.0 436.0,445.8 430.5,448.5 420.9,449.9"/><polygon fill="#ffff00" points="434.7,440.2 437.4,433.3 443.0,432.0 447.1,434.0 447.8,437.5 441.6,441.6 436.0,443.7"/><polygon fill="#ffaa00" points="465.1,380.9 510.6,380.9 513.4,390.5 507.9,396.0 502.3,403.0 496.8,400.2 492.7,390.5 484.4,387.8 476.1,386.4 466.4,387.8"/><polygon fill="#fcd37f" points="492.7,380.9 510.6,380.9 512.0,389.1 507.9,392.6 501.0,393.3 494.1,389.1"/><polygon fill="#ffaa00" points="477.5,408.5 483.0,403.0 489.9,400.2 494.1,403.0 492.7,407.1 485.8,409.9 481.6,416.8 477.5,418.1"/><polygon fill="#730000" points="521.7,443.0 522.4,426.4 529.1,419.5 529.1,443.0"/></g>
</g>
<g fill="none" stroke="#4a4a4a" stroke-width="0.8" stroke-linejoin="round">
<polyline points="53.4,130.1 56.6,131.5 59.8,132.9 64.3,135.9 64.4,143.7 67.4,145.0 70.4,146.3 74.5,146.6 78.6,146.9 81.9,148.2 85.1,149.5 89.2,150.0 93.3,150.4 97.6,149.8 102.0,149.1 104.7,149.9 107.5,150.6 108.4,149.5 111.3,150.2 114.1,150.9 116.9,151.6 119.8,152.2 122.6,152.9 125.5,153.6 128.4,154.2 131.2,154.9"/><polyline points="140.8,106.4 139.9,110.5 139.0,114.6 138.0,118.7 137.1,122.9 136.1,127.0 135.2,131.2 134.2,135.3 133.3,139.5 132.3,143.6 131.4,147.8 131.2,154.9"/><polyline points="131.2,154.9 134.9,162.5 131.1,164.2 128.4,171.2 125.2,174.8 122.4,179.2 122.8,182.7 123.4,188.0 122.0,192.8 120.5,198.0 119.0,203.2 118.1,207.3 117.2,211.4 116.3,215.5 115.3,219.5"/><polyline points="151.4,108.7 150.5,112.8 149.6,116.8 148.8,120.9 147.9,125.0 150.4,132.0 153.8,137.7 156.6,144.2 159.5,149.8 162.7,151.3 159.0,158.2 157.6,165.5 158.8,168.3 161.5,169.6 164.2,171.0 167.4,179.2 170.0,182.7 172.7,186.1 175.2,188.7 177.8,191.2 181.4,191.0 185.1,190.8 188.7,190.5 193.7,192.5"/><polyline points="195.1,184.0 194.4,188.3 193.7,192.5 193.0,197.1 192.3,201.6 191.6,206.1 190.8,210.7 190.1,215.2 189.4,219.7 188.7,224.3 187.9,228.8 187.2,233.4 186.5,237.5 185.9,241.6 185.2,245.7 184.6,249.9 187.6,250.4 190.7,250.8 193.8,251.3 196.8,251.8 199.9,252.2 203.0,252.7 206.0,253.1 209.1,253.5"/><polyline points="195.1,184.0 198.0,184.5 200.9,184.9 203.8,185.4 206.7,185.8 209.6,186.2 212.5,186.6 215.4,187.1 218.3,187.5 221.2,187.9 224.1,188.2 227.0,188.6 229.9,189.0 232.8,189.4 235.7,189.7 238.6,190.1 241.5,190.4 244.4,190.8 247.3,191.1 250.2,191.4 253.2,191.7 256.1,192.0 259.0,192.3 261.9,192.6 264.8,192.9 267.7,193.2 270.6,193.4 273.6,193.7 276.5,194.0"/><polyline points="30.4,197.0 33.4,197.9 36.3,198.8 39.3,199.7 42.3,200.6 45.3,201.4 48.2,202.3 51.2,203.2 54.2,204.0 57.2,204.8 60.2,205.7 63.1,206.5 66.1,207.3 69.1,208.1 72.1,208.9 75.1,209.7 78.1,210.5 81.1,211.3 84.1,212.0 87.1,212.8 90.1,213.6 93.1,214.3 96.1,215.0 99.1,215.8 102.2,216.5 105.2,217.2 108.2,217.9 111.2,218.6 114.2,219.3 117.2,220.0 120.3,220.6 123.3,221.3 126.3,221.9 129.3,222.6 132.4,223.2 135.4,223.9 138.4,224.5 141.5,225.1 144.5,225.7 147.6,226.3 150.6,226.9 153.6,227.5 156.7,228.1 159.7,228.6 162.8,229.2 165.8,229.7 168.9,230.3 171.9,230.8 175.0,231.3 178.0,231.9 181.1,232.4 184.1,232.9 187.2,233.4"/><polyline points="80.0,211.0 79.0,215.0 77.9,219.1 76.9,223.1 75.8,227.2 74.8,231.2 73.7,235.3 72.7,239.3 71.6,243.4 70.6,247.4 69.5,251.5 68.5,255.5 67.5,259.6 69.8,263.5 72.2,267.4 74.6,271.3 77.1,275.2 79.5,279.1 82.0,282.9 84.5,286.8 87.0,290.7 89.5,294.6 92.0,298.4 94.6,302.3 97.2,306.1 99.8,310.0 102.4,313.8 105.0,317.7 107.7,321.5 110.3,325.3 113.0,329.1 115.7,332.9 118.5,336.7 121.2,340.5"/><polyline points="121.2,340.5 122.6,347.6 125.3,353.3 120.4,357.4 117.7,362.0 115.1,366.6 113.8,372.1 112.6,377.7"/><polyline points="121.2,340.5 121.8,336.4 122.3,332.2 122.7,328.0 123.1,323.8 126.5,322.8 132.7,322.3 133.5,318.2 134.3,314.0 135.1,309.9 135.9,305.7 136.7,301.6 137.5,297.4 138.3,293.3 139.1,289.1 139.9,285.0 140.7,280.9 141.5,276.7 142.3,272.6 143.1,268.4 143.9,264.3 144.7,260.1 145.5,256.0 146.3,251.8 147.1,247.7 147.9,243.5 148.7,239.4 149.5,235.3 150.2,231.1 151.0,227.0"/><polyline points="135.2,309.2 138.4,309.8 141.7,310.4 144.9,311.0 148.1,311.6 151.3,312.2 154.6,312.7 157.8,313.3 161.0,313.9 164.3,314.4 167.5,314.9 170.7,315.5 174.0,316.0 177.2,316.5 180.5,317.0 183.7,317.5 186.9,318.0 190.2,318.5 193.4,319.0 196.7,319.4 199.9,319.9"/><polyline points="209.1,253.5 208.5,257.7 208.0,262.0 207.4,266.2 206.8,270.4 206.2,274.6 205.6,278.8 205.0,283.1 204.4,287.3 203.9,291.5 203.3,295.7 202.7,300.0 202.1,304.2 201.5,308.4 200.9,312.6 200.4,316.8 199.8,321.1 199.2,325.3 198.6,329.5 198.0,333.7 197.4,337.9 196.8,342.2 196.3,346.4 195.7,350.6 195.1,354.8 194.5,359.0 193.9,363.3 193.3,367.5 192.8,371.7 192.2,375.9 191.6,380.1 191.0,384.3 190.4,388.5 189.8,392.7 189.3,396.9 188.7,401.1 188.1,405.3 187.5,409.5 186.9,413.7"/><polyline points="199.9,319.9 203.2,320.3 206.5,320.8 209.8,321.2 213.1,321.6 216.4,322.0 219.7,322.5 223.0,322.8 226.3,323.2 229.6,323.6 232.9,324.0 236.2,324.4 239.5,324.7 242.8,325.1 246.1,325.4 249.4,325.7 252.7,326.0 256.0,326.4 259.3,326.7 262.6,326.9 266.0,327.2 269.3,327.5 272.6,327.8 275.9,328.0 279.2,328.3 282.5,328.5 285.8,328.8 289.1,329.0 292.5,329.2 295.8,329.4 299.1,329.6 302.4,329.8 305.7,330.0 309.0,330.1 312.3,330.3 315.7,330.4 319.0,330.6 322.3,330.7 325.6,330.8 328.9,331.0 332.3,331.1 335.6,331.2 338.9,331.3 342.2,331.3 345.5,331.4 348.9,331.5 352.2,331.5 355.5,331.6 358.8,331.6 362.2,331.6 365.5,331.7 368.8,331.7 372.1,331.7 375.4,331.7 378.8,331.6 382.1,331.6 385.4,331.6 388.7,331.5"/><polyline points="278.9,328.3 278.5,332.4 278.2,336.6 277.9,340.8 277.5,344.9 277.2,349.1 276.8,353.3 276.5,357.5 276.1,361.6 275.8,365.8 275.4,370.0 275.1,374.1 274.7,378.3 274.3,382.5 274.0,386.6 273.6,390.8 273.3,394.9 272.9,399.1 272.6,403.2 272.2,407.4 271.8,411.6 268.3,411.3 264.7,411.0 261.2,410.7 257.6,410.4 254.1,410.1 250.6,409.8 247.0,409.5 243.5,409.1 239.9,408.8 236.4,408.4 232.8,408.1 229.3,407.7 225.8,407.3 222.2,406.9"/><polyline points="278.2,336.6 281.5,336.8 284.8,337.1 288.1,337.3 291.4,337.5 294.7,337.7 298.0,337.9 301.3,338.1 304.6,338.3 307.9,338.5 311.2,338.6 314.5,338.8 317.8,338.9 317.6,343.5 317.4,348.2 317.2,352.8 317.0,357.5 316.8,362.1 316.6,366.7 316.4,371.3"/><polyline points="316.4,371.3 321.7,374.2 327.0,377.8 331.1,378.7 335.2,379.7 338.5,381.5 341.9,383.2 346.0,384.1 350.1,385.0 355.5,386.0 359.0,384.7 362.4,383.5 367.9,386.0 372.0,385.2 376.1,384.4 381.5,383.5 386.3,386.0 391.2,388.4 397.5,389.1 397.6,393.5 397.7,398.0 397.8,402.3 397.9,406.6 397.9,410.9 398.0,415.1 403.0,423.2 404.1,427.3 405.3,431.5 404.4,435.7 403.4,439.8 403.3,444.0 403.3,448.1 401.6,453.5"/><polyline points="397.7,398.0 401.3,397.9 404.9,397.8 408.5,397.7 412.1,397.6 415.7,397.5 419.3,397.3 422.9,397.2 426.5,397.1 430.1,396.9 433.7,396.7 437.3,396.6"/><polyline points="388.7,331.5 388.8,335.7 388.8,339.9 389.5,344.5 390.2,349.1 390.9,353.7 391.6,358.3 391.6,362.5 391.6,366.7 391.6,370.9 391.5,375.1 391.5,379.3 391.5,383.5 391.4,387.7"/><polyline points="270.8,260.4 273.9,260.7 277.0,260.9 280.1,261.2 283.2,261.4 286.3,261.6 289.4,261.9 292.5,262.1 295.6,262.3 295.3,266.4 295.0,270.6 294.8,274.8 294.5,279.0 294.2,283.1 294.0,287.3 293.7,291.5 293.4,295.7 293.2,299.9 292.9,304.0 292.6,308.2 292.4,312.4 292.1,316.6 291.8,320.8 291.6,324.9 291.3,329.1"/><polyline points="277.8,178.4 277.4,183.6 276.9,188.8 276.5,194.0 276.1,198.1 275.8,202.2 275.4,206.4 275.1,210.5 274.7,214.7 274.4,218.8 274.0,223.0 273.6,227.1 273.3,231.3 272.9,235.4 272.6,239.6 272.2,243.8 271.9,247.9 271.5,252.1 271.2,256.3 270.8,260.4"/><polyline points="209.1,253.5 212.2,254.0 215.3,254.4 218.4,254.8 221.4,255.2 224.5,255.6 227.6,255.9 230.7,256.3 233.8,256.7 236.8,257.0 239.9,257.4 243.0,257.7 246.1,258.1 249.2,258.4 252.3,258.7 255.4,259.0 258.4,259.3 261.5,259.6 264.6,259.9 267.7,260.2 270.8,260.4"/><polyline points="294.5,279.0 297.6,279.2 300.8,279.4 303.9,279.5 307.1,279.7 310.2,279.9 313.4,280.0 316.5,280.2 319.7,280.3 322.8,280.4 325.9,280.6 329.1,280.7 332.2,280.8 335.4,280.9 338.5,281.0 341.7,281.1 344.8,281.1 348.0,281.2 351.1,281.3 354.3,281.3 357.4,281.3 360.6,281.4 363.7,281.4 366.9,281.4 370.0,281.4 373.2,281.4 376.3,281.4 379.4,281.4"/><polyline points="379.4,281.4 382.7,288.9 388.5,296.4 388.5,300.8 388.5,305.2 388.6,309.6 388.6,313.9 388.6,318.3 388.7,322.7 388.7,327.1 388.7,331.5"/><polyline points="273.6,227.1 276.7,227.4 279.7,227.6 282.7,227.9 285.8,228.1 288.8,228.3 291.9,228.5 294.9,228.7 297.9,228.9 301.0,229.1 304.0,229.3 307.0,229.5 310.1,229.7 313.1,229.8 316.2,230.0 319.2,230.1 322.2,230.2 325.3,230.4 328.3,230.5 331.4,230.6 334.4,230.7 337.4,230.8 340.5,230.9 344.1,233.0 347.6,235.2 351.9,234.5 356.1,233.7 359.1,235.7 362.2,237.6 365.2,239.6"/><polyline points="365.2,239.6 367.0,243.8 368.8,248.0 371.9,254.7 372.2,261.3 372.8,265.5 373.4,269.7 376.4,275.5 379.4,281.4"/><polyline points="282.1,128.2 281.7,132.3 281.4,136.5 281.0,140.7 280.7,144.9 280.3,149.0 279.9,153.2 279.6,157.4 279.2,161.6 278.9,165.8 278.5,170.0 278.2,174.2 277.8,178.4"/><polyline points="277.8,178.4 280.8,178.7 283.7,178.9 286.7,179.1 289.7,179.4 292.7,179.6 295.6,179.8 298.6,180.0 301.6,180.2 304.6,180.4 307.6,180.6 310.5,180.7 313.5,180.9 316.5,181.0 319.5,181.2 322.4,181.3 325.4,181.4 328.4,181.6 331.4,181.7 334.4,181.8 337.4,181.9 340.3,182.0 343.3,182.0 346.3,182.1 349.3,182.2 352.3,182.2 355.2,182.3 358.2,182.3 361.2,182.3 364.2,182.4"/><polyline points="357.1,131.9 357.5,136.0 357.9,140.1 358.4,144.2 358.9,148.3 360.0,152.4 361.1,156.6 361.3,160.7 361.6,164.8 361.5,171.4 363.8,176.4 364.2,182.4 364.8,187.7 365.4,193.0 365.4,197.3 365.4,201.5 365.3,205.8 365.3,210.1 365.3,214.4 365.3,218.6 365.3,222.9 365.2,227.1 365.2,231.3 365.2,235.4 365.2,239.6"/><polyline points="365.3,222.9 368.4,222.9 371.5,222.9 374.7,222.9 377.8,222.9 380.9,222.9 384.1,222.9 387.2,222.8 390.3,222.8 393.4,222.7 396.6,222.7 399.7,222.6 402.8,222.5 406.0,222.4 409.1,222.3 412.2,222.2 415.4,222.1 418.5,221.9 421.6,221.8 424.7,221.7 427.9,221.5"/><polyline points="427.9,221.5 425.4,216.6 422.9,211.8 419.2,208.6 415.5,205.4 411.9,203.5 408.3,201.5 408.3,197.4 408.4,193.2 408.4,189.0 410.9,184.8 413.3,180.6 413.2,174.0 415.2,168.9"/><polyline points="427.9,221.5 429.8,225.6 431.8,229.7 433.8,233.7 435.7,237.8 438.8,243.5 441.8,249.2 437.2,255.3 432.7,263.1 431.2,269.9 428.0,273.7 428.6,278.5 429.3,283.3 433.7,289.0 438.2,294.6 442.0,296.9 445.9,299.2 445.0,304.3 444.2,309.4 447.8,312.5 451.5,315.6 455.2,318.7 457.8,323.6 460.4,328.5 458.4,332.8 456.4,337.1 455.4,341.4 454.3,345.7 452.9,349.9 451.5,354.2 450.8,358.5 450.0,362.7 446.9,367.1 443.8,371.5 442.0,375.7 440.2,380.0 439.0,384.3 437.9,388.5 437.3,396.6 438.4,400.9 439.4,405.1 437.2,409.4 435.0,413.7 434.5,417.9 434.0,422.1 433.2,426.3 432.5,430.5 436.4,430.3 440.2,430.1 444.0,429.9 447.9,429.7 451.7,429.5 455.6,429.2 459.4,429.0 458.8,435.7 462.2,442.5"/><polyline points="435.7,237.8 438.9,237.6 442.0,237.4 445.1,237.2 448.3,237.0 451.4,236.8 454.5,236.6 457.7,236.4 460.8,236.1 463.9,235.9 467.0,235.6 470.2,235.4"/><polyline points="373.5,271.7 376.6,271.7 379.8,271.7 382.9,271.7 386.1,271.6 389.2,271.6 392.3,271.5 395.5,271.5 398.6,271.4 401.7,271.3 404.9,271.2 408.0,271.1 411.2,271.0 414.3,270.9 417.4,270.8 420.6,270.7 423.7,270.5 428.0,273.7"/><polyline points="388.8,339.9 392.3,339.9 395.8,339.8 399.3,339.7 402.7,339.6 406.2,339.5 409.7,339.4 413.1,339.3 416.6,339.2 420.1,339.1 423.6,338.9 427.0,338.8 430.5,338.6 434.0,338.5 437.4,338.3 440.9,338.1 444.4,337.9 447.8,337.7 446.6,341.9 445.4,346.2 449.9,345.9 454.3,345.7"/><polyline points="532.8,327.9 529.4,328.3 526.1,328.7 522.7,329.2 519.3,329.6 515.9,330.0 512.6,330.3 509.2,330.7 505.8,331.1 502.4,331.5 499.0,331.8 495.7,332.1 492.3,332.5 488.9,332.8 485.5,333.1 482.1,333.4 478.7,333.7 475.4,334.0 475.5,335.7 471.7,336.0 467.9,336.3 464.0,336.6 460.2,336.9 456.4,337.1"/><polyline points="447.4,362.9 450.8,362.7 454.3,362.4 457.7,362.2 461.2,362.0 464.6,361.7 468.1,361.5 471.5,361.2 475.0,360.9 478.5,360.6 481.9,360.3 485.4,360.0 488.8,359.7 492.3,359.4 495.7,359.1 499.2,358.7 502.6,358.4 506.0,358.0 509.5,357.6 512.9,357.3 516.4,356.9 519.8,356.5 523.3,356.1 526.7,355.6 530.1,355.2 533.6,354.8 537.0,354.3 540.4,353.9 543.9,353.4"/><polyline points="474.5,247.4 474.9,251.8 475.3,256.3 475.7,260.8 476.1,265.2 476.5,269.7 476.9,274.1 477.3,278.6 477.7,283.1 478.1,287.5 477.7,293.5 477.5,297.7 477.2,301.9 475.6,306.3 474.1,310.6 473.7,314.0"/><polyline points="460.4,328.5 464.6,327.3 468.8,326.1 473.5,319.9 473.7,314.0 479.4,311.8 483.2,311.5 487.1,311.1 490.3,310.0 493.4,308.8 497.7,306.1 501.9,303.4 506.2,294.8 509.5,291.5 512.9,288.2 513.3,288.1 519.9,289.7 524.3,290.8 528.8,291.9 533.2,293.0 537.7,293.3 542.3,293.5 546.4,289.7 551.4,284.8 554.7,281.9 558.0,279.0 563.0,273.0 566.3,269.8 565.2,264.9 564.1,260.0 563.0,255.1"/><polyline points="483.5,246.5 486.5,246.2 489.6,245.9 492.6,245.6 495.7,245.3 498.7,245.0 501.8,244.6 504.8,244.3 507.9,243.9 511.2,243.6 514.5,243.3 517.8,243.0 521.1,242.7 524.4,242.4"/><polyline points="507.9,243.9 508.4,248.3 508.9,252.8 509.4,257.2 509.9,261.6 510.4,266.0 510.9,270.5 511.4,274.9 511.9,279.3 512.4,283.7 512.9,288.2"/><polyline points="559.3,233.0 560.0,237.1 560.7,241.2 561.4,245.4 562.1,249.5 562.7,253.7 563.4,257.8 564.1,262.0 564.8,266.1 565.5,270.3"/><polyline points="542.3,293.5 543.9,298.4 545.5,303.3 549.2,306.2 552.9,309.0 549.6,312.2 546.3,315.3 543.0,318.5 539.6,321.6 536.2,324.8 532.8,327.9"/><polyline points="552.9,309.0 558.0,312.9 562.2,312.1 566.3,311.3 569.6,308.8 572.9,306.3 574.6,301.4 576.2,296.4 581.2,289.7 586.2,281.4 590.3,273.2 594.5,269.8 599.5,266.5 601.9,270.9"/><polyline points="601.9,270.9 597.7,269.1 593.5,267.4 587.5,267.6 583.3,269.7 579.1,271.7 578.4,268.1"/><polyline points="565.5,270.3 568.7,269.7 572.0,269.2 575.3,268.6 578.6,268.0 581.8,267.5 585.1,266.9 588.4,266.3 591.6,265.7 594.9,265.1 598.2,264.4 601.4,263.8 604.7,263.2 607.9,262.5 611.2,261.9 614.4,261.2 617.7,260.5 620.9,259.8 624.2,259.1 628.1,256.9"/><polyline points="624.2,259.1 625.3,263.2 626.4,267.3 627.6,271.5 628.7,275.6 629.8,279.7 633.9,278.8 638.0,277.9"/><polyline points="601.9,270.9 605.5,272.7 609.1,274.6 612.0,279.1 612.7,285.8 617.6,287.4 622.5,288.9"/><polyline points="628.8,287.1 632.9,286.4 637.1,285.8"/><polyline points="532.8,327.9 536.1,327.4 539.4,327.0 542.7,326.5 546.0,326.1 549.3,325.6 552.6,325.1 555.9,324.7 559.2,324.2 562.5,323.7 565.8,323.2 569.0,322.7 572.3,322.2 575.6,321.7 578.9,321.2 582.1,320.7 585.4,320.2 588.7,319.7 592.0,319.1 595.2,318.6 598.5,318.0 601.8,317.4 605.0,316.8 608.3,316.3 611.6,315.7 614.8,315.1 618.1,314.4 621.3,313.8 624.6,313.2 627.8,312.6 631.1,311.9 634.4,311.2"/><polyline points="559.2,324.3 558.6,329.3 553.5,335.2 548.3,336.8 544.7,339.4 541.0,342.0 537.3,345.0 534.1,346.3 530.9,347.5 527.3,351.4 527.6,355.5"/><polyline points="543.9,353.4 547.3,351.8 550.7,350.2 554.1,348.6 557.4,348.3 560.8,348.0 564.1,347.6 567.5,347.3 570.8,346.9 572.5,349.2 575.1,352.2 578.7,351.5 582.4,350.8 586.0,350.1 589.7,349.4 594.2,352.7 598.7,356.0 603.3,359.3 607.9,362.6"/><polyline points="543.9,353.4 545.8,357.4 547.7,361.3 553.0,364.8 558.3,368.3 561.6,372.0 564.9,375.7 567.6,379.6 570.3,383.4 573.0,387.2 575.8,391.0 578.6,394.7 581.4,398.5"/><polyline points="510.4,357.5 511.6,361.9 512.8,366.3 513.9,370.7 515.1,375.1 516.3,379.5 517.5,383.9 518.7,388.3 519.9,392.6 521.8,397.0 523.7,401.4 524.0,405.9 524.2,410.3 524.5,414.8 525.3,418.8 526.2,422.9"/><polyline points="526.2,422.9 528.7,427.7 532.6,427.5 536.5,427.4 540.4,427.3 544.3,427.1 548.1,426.9 551.8,426.7 555.5,426.4 559.2,426.1 562.9,425.8 566.7,425.5 569.1,422.3 572.9,421.5 576.7,420.6"/><polyline points="526.2,422.9 522.5,423.4 518.8,423.8 515.2,424.2 511.5,424.6 507.8,424.9 504.2,425.3 500.5,425.7 496.8,426.0 493.2,426.4 489.5,426.7 490.7,432.6 492.0,438.5"/><polyline points="475.6,360.9 477.1,362.4 477.0,366.9 476.9,371.3 476.9,375.7 476.8,380.1 476.7,384.6 476.6,389.0 476.5,393.4 476.5,397.8 476.4,402.3 476.3,406.7 476.2,411.1 476.5,415.2 476.8,419.4 477.2,423.5 477.5,427.7 478.3,432.8 479.0,437.9"/><polyline points="633.6,166.6 634.8,171.1 636.0,175.6 637.2,180.1 638.4,184.6 639.6,189.1 640.3,189.4 641.3,193.9 642.3,198.3 643.3,202.8 643.3,208.8 643.3,214.8 643.6,220.2 643.9,225.5 644.2,230.9 645.6,232.3"/><polyline points="567.7,226.6 568.5,231.1 571.6,230.5 574.7,230.0 577.8,229.4 580.9,228.9 584.0,228.3 587.2,227.7 590.3,227.1 593.4,226.5 596.5,225.9 599.6,225.3 602.7,224.7 605.8,224.0 608.9,223.4 612.0,222.7 615.1,222.1 618.2,221.4 621.3,220.7 625.9,224.0 631.6,229.5 635.2,230.7 638.9,231.9 642.6,233.0"/><polyline points="631.6,229.5 628.2,237.2 628.3,243.2 633.8,247.9 631.7,252.7 628.1,256.9"/><polyline points="654.5,161.3 655.0,165.4 655.5,169.6 653.9,174.3 652.4,179.0 651.4,183.6 650.4,188.1 651.2,192.3 652.0,196.5 652.9,200.7"/><polyline points="643.3,203.1 646.5,202.3 649.7,201.5 652.9,200.7 656.3,200.0 659.7,199.2 663.2,198.5 666.6,197.7 671.5,193.5"/><polyline points="643.3,214.8 646.7,214.1 650.1,213.3 653.4,212.6 656.8,211.8 660.2,211.0 663.6,210.2 668.6,209.2 671.4,212.8 674.1,216.4"/><polyline points="663.6,210.2 664.8,216.0 665.9,221.7"/><polyline points="658.0,155.2 659.3,159.3 660.6,163.4 662.0,167.5 663.3,171.7 664.7,175.8 666.5,182.2 669.3,186.0 672.0,189.9"/><polyline points="468.8,192.0 465.9,185.6 461.9,179.3 458.4,179.0 454.9,178.7 451.4,178.4 447.8,177.3 444.3,176.2 440.7,175.0 437.7,172.7 434.7,170.4"/>
</g>
<path d="M56.0,94.1 L54.6,100.2 L55.6,107.4 L55.8,114.4 L55.2,119.4 L54.6,124.4 L53.4,130.1 L51.8,137.4 L50.5,141.3 L49.2,145.3 L46.9,150.6 L44.7,156.0 L42.8,160.7 L41.0,165.3 L38.9,169.9 L36.8,174.5 L33.6,178.4 L30.5,182.3 L29.9,189.9 L30.4,197.0 L30.0,201.2 L29.6,205.5 L27.1,210.9 L24.7,216.2 L20.4,221.2 L23.2,229.8 L23.1,234.1 L23.1,238.5 L22.5,242.7 L22.0,246.9 L23.2,251.6 L24.5,256.4 L26.6,260.5 L27.1,265.9 L31.1,270.5 L30.5,277.3 L31.8,284.7 L34.8,286.4 L33.2,292.0 L32.5,297.0 L35.8,304.9 L38.4,310.8 L40.5,318.3 L41.8,323.8 L40.4,329.0 L42.2,331.7 L45.6,332.8 L48.9,333.8 L52.2,334.8 L57.5,339.1 L62.5,344.1 L66.8,346.6 L66.7,350.0 L70.5,351.7 L74.9,357.1 L79.0,364.0 L78.8,370.8 L79.3,373.8 L83.0,374.3 L86.7,374.8 L90.4,375.2 L94.1,375.6 L97.8,376.1 L101.5,376.5 L105.2,376.9 L108.9,377.3 L112.6,377.7 L110.6,381.2 L114.0,383.3 L117.3,385.3 L120.7,387.4 L124.2,389.5 L127.6,391.5 L131.0,393.5 L134.4,395.6 L137.9,397.6 L141.3,399.6 L144.8,401.6 L148.3,403.6 L151.7,405.6 L155.2,407.6 L158.7,409.5 L162.4,410.1 L166.0,410.7 L169.6,411.2 L173.2,411.8 L176.9,412.3 L180.5,412.8 L184.1,413.3 L187.8,413.8 L191.4,414.3 L195.1,414.8 L198.7,415.3 L199.7,407.9 L203.6,408.4 L207.5,408.9 L211.4,409.3 L215.3,409.8 L219.2,410.3 L223.1,410.7 L227.1,416.7 L230.9,420.8 L234.7,425.0 L239.0,428.8 L243.3,432.5 L246.2,439.5 L247.7,447.1 L252.2,453.3 L257.1,455.8 L262.0,458.3 L266.8,461.7 L271.4,458.2 L273.2,453.8 L274.9,449.3 L280.0,448.8 L285.1,448.7 L290.1,448.6 L293.6,450.9 L297.1,453.2 L299.7,457.5 L302.4,461.8 L305.0,468.5 L307.0,472.7 L309.0,477.0 L313.2,482.1 L317.4,487.2 L318.7,492.3 L320.0,498.9 L323.5,505.6 L330.1,509.1 L333.8,510.9 L337.5,512.6 L341.2,513.9 L345.0,515.2 L349.5,516.1 L353.3,515.2 L352.6,510.7 L351.9,506.3 L351.2,501.3 L350.5,496.4 L351.7,492.3 L352.8,488.2 L355.1,484.1 L359.6,478.3 L364.7,474.2 L370.6,470.9 L374.9,468.8 L379.3,466.7 L384.4,462.6 L388.7,459.2 L394.4,455.8 L398.0,454.7 L401.6,453.5 L408.0,451.8 L413.1,453.1 L418.2,454.4 L421.8,454.6 L425.4,454.9 L429.0,454.8 L432.6,454.6 L436.3,456.5 L440.0,458.4 L444.4,459.8 L448.9,461.3 L452.5,460.6 L456.1,460.0 L459.6,458.9 L463.2,457.9 L469.3,462.4 L466.6,455.2 L463.4,450.4 L463.0,444.6 L462.2,442.5 L467.7,439.3 L471.9,438.5 L476.2,437.8 L479.0,437.9 L483.4,438.9 L485.3,435.4 L489.2,439.2 L492.0,438.5 L496.2,437.5 L500.4,436.5 L503.9,435.8 L507.4,435.0 L511.9,436.2 L516.3,437.4 L521.9,441.8 L525.9,445.6 L530.0,443.4 L534.1,441.3 L538.2,439.1 L542.2,436.9 L548.3,439.5 L553.4,444.6 L560.7,450.3 L563.8,456.6 L564.0,460.7 L564.2,464.9 L565.9,471.3 L568.0,476.0 L570.8,479.8 L573.6,483.6 L578.3,489.6 L582.9,495.5 L586.8,500.8 L591.0,503.4 L595.2,506.1 L598.3,510.6 L601.9,509.2 L605.5,507.8 L606.8,501.7 L608.8,498.1 L608.5,493.9 L608.3,489.8 L607.8,483.2 L605.9,479.4 L603.9,475.5 L600.7,469.4 L596.7,463.3 L595.5,456.0 L590.9,450.8 L587.0,444.8 L584.6,440.9 L582.2,437.1 L579.4,430.8 L578.1,425.7 L576.7,420.6 L576.5,414.5 L577.2,410.1 L578.0,405.8 L581.4,398.5 L584.4,393.0 L589.1,387.1 L592.8,383.9 L596.1,380.4 L599.3,376.9 L602.4,370.4 L605.1,366.5 L607.9,362.6 L611.5,361.5 L615.1,360.4 L616.9,354.9 L621.9,348.9 L625.6,346.4 L629.2,344.0 L632.7,344.1 L636.8,337.3 L640.1,334.7 L643.5,332.0 L642.9,325.7 L639.1,319.6 L636.7,315.4 L634.4,311.2 L631.5,305.4 L628.2,305.4 L627.1,302.7 L626.0,296.0 L623.5,289.9 L622.8,285.1 L619.3,280.9 L618.0,276.1 L616.6,269.2 L619.3,265.7 L622.8,262.6 L622.8,265.7 L623.5,272.6 L624.2,280.9 L627.6,286.4 L628.6,291.2 L629.5,296.0 L631.0,302.1 L633.7,293.3 L635.0,287.0 L635.9,280.9 L637.3,274.7 L634.0,270.5 L629.5,265.0 L627.6,262.3 L630.0,263.5 L633.5,265.5 L638.0,268.8 L641.1,262.6 L642.9,257.9 L644.7,253.1 L644.4,248.0 L643.5,242.3 L640.7,241.2 L642.1,239.1 L644.2,239.8 L647.7,238.4 L651.2,237.0 L654.2,235.1 L657.1,233.2 L660.1,231.3 L663.5,228.6 L666.9,225.8 L662.7,227.9 L658.5,230.0 L654.2,231.1 L650.0,232.1 L645.0,235.0 L645.6,232.3 L650.4,228.5 L653.8,226.7 L657.2,224.8 L660.7,223.7 L664.2,222.5 L667.0,221.1 L669.9,219.6 L674.1,216.4 L678.1,214.5 L682.6,212.4 L687.4,211.9 L684.7,204.9 L682.3,204.3 L679.9,209.7 L675.2,204.0 L671.6,202.4 L674.6,197.3 L671.5,193.5 L672.0,189.9 L674.7,181.7 L678.0,175.6 L681.2,173.8 L684.4,172.0 L686.7,169.2 L688.9,166.4 L691.9,163.7 L694.8,161.1 L698.1,158.8 L701.4,156.5 L704.1,153.1 L706.7,149.7 L700.8,144.5 L697.2,138.7 L694.1,135.3 L691.1,131.9 L689.5,126.8 L687.9,121.7 L686.3,116.6 L681.0,115.1 L676.2,114.8 L672.5,115.0 L668.9,115.1 L666.9,123.5 L664.4,129.4 L664.0,135.5 L663.6,141.6 L661.9,147.3 L660.1,152.9 L658.0,155.2 L654.5,161.3 L651.5,162.1 L648.5,162.8 L645.5,163.6 L642.5,164.4 L639.5,165.1 L636.5,165.9 L633.5,166.6 L630.3,167.4 L627.1,168.1 L623.9,168.9 L620.7,169.6 L617.5,170.3 L614.3,173.6 L611.2,176.9 L608.9,180.3 L606.6,183.8 L602.3,189.0 L604.0,192.9 L605.7,196.8 L601.9,201.8 L598.4,202.9 L595.0,204.0 L591.5,205.1 L587.9,205.4 L584.3,205.7 L580.7,206.0 L577.0,207.5 L573.3,209.0 L576.3,215.3 L573.6,220.9 L570.7,223.8 L567.7,226.6 L564.9,228.8 L562.1,230.9 L559.3,233.0 L556.4,234.7 L553.5,236.5 L550.5,238.3 L545.7,243.2 L542.2,244.0 L538.8,244.8 L535.4,245.6 L531.8,244.7 L528.1,243.8 L524.5,242.9 L526.7,236.7 L529.1,231.3 L532.7,226.6 L533.9,219.6 L532.4,214.8 L531.0,210.0 L527.7,203.7 L523.4,203.4 L519.8,207.3 L515.0,212.1 L516.0,206.1 L519.9,199.7 L519.7,195.6 L519.4,191.4 L517.4,185.0 L511.8,182.4 L508.5,179.8 L505.3,177.3 L500.6,177.4 L498.0,179.9 L494.1,187.0 L492.3,192.2 L487.0,191.9 L485.3,198.8 L484.6,203.0 L483.8,207.3 L484.0,212.3 L484.2,217.3 L486.5,222.1 L488.8,226.9 L488.8,231.9 L488.7,237.0 L485.7,244.0 L482.8,246.4 L480.0,248.7 L475.1,249.2 L472.7,243.5 L471.4,239.4 L470.2,235.4 L469.3,231.2 L468.5,227.1 L469.1,222.9 L469.7,218.7 L470.0,213.6 L470.2,208.6 L471.4,204.3 L472.4,200.0 L474.3,194.4 L476.1,188.8 L473.2,191.6 L470.2,194.4 L467.5,198.0 L464.9,201.5 L467.3,195.5 L468.1,191.2 L468.9,187.0 L472.4,180.9 L475.2,179.3 L478.0,177.8 L481.0,177.0 L484.0,176.1 L487.0,175.2 L490.1,175.2 L493.2,175.1 L496.3,175.0 L500.9,174.5 L504.1,172.9 L507.4,171.2 L505.7,166.4 L501.5,165.3 L496.3,165.1 L493.1,164.6 L490.0,164.1 L486.9,163.6 L483.1,165.7 L479.3,167.7 L475.8,167.8 L472.4,167.8 L468.9,167.9 L465.6,165.3 L462.2,162.7 L457.9,158.9 L460.5,156.2 L463.1,153.5 L460.2,154.5 L457.2,155.6 L454.3,156.7 L451.3,161.9 L448.0,163.8 L444.7,165.6 L441.4,167.0 L438.0,168.3 L434.7,169.6 L429.3,165.8 L424.4,170.2 L421.3,169.7 L418.2,169.3 L415.2,168.9 L418.5,165.5 L421.7,162.0 L424.4,158.6 L427.0,155.1 L429.8,153.3 L432.5,151.5 L435.2,149.7 L437.9,147.9 L440.6,146.9 L443.4,145.9 L440.5,145.3 L437.7,144.6 L434.8,144.0 L432.0,143.3 L429.1,144.0 L426.1,144.7 L423.2,145.4 L420.3,144.6 L417.5,143.7 L414.7,142.7 L411.9,141.8 L407.9,140.3 L404.0,138.8 L401.0,138.5 L398.0,138.1 L395.1,137.7 L391.2,136.8 L387.3,135.9 L383.9,131.9 L380.0,125.7 L380.0,131.9 L377.3,131.9 L374.5,132.0 L371.7,132.0 L368.9,132.0 L366.1,131.9 L363.3,131.9 L360.5,131.9 L357.8,131.9 L355.0,131.8 L352.2,131.8 L349.4,131.7 L346.6,131.7 L343.8,131.6 L341.0,131.5 L338.3,131.4 L335.5,131.4 L332.7,131.3 L329.9,131.1 L327.1,131.0 L324.3,130.9 L321.6,130.8 L318.8,130.7 L316.0,130.5 L313.2,130.4 L310.4,130.2 L307.6,130.0 L304.9,129.9 L302.1,129.7 L299.3,129.5 L296.5,129.3 L293.7,129.1 L291.0,128.9 L288.2,128.7 L285.4,128.5 L282.6,128.2 L279.9,128.0 L277.1,127.7 L274.4,127.5 L271.7,127.2 L268.9,127.0 L266.2,126.7 L263.4,126.4 L260.7,126.1 L258.0,125.8 L255.2,125.5 L252.5,125.2 L249.7,124.9 L247.0,124.6 L244.3,124.3 L241.5,123.9 L238.8,123.6 L236.1,123.2 L233.3,122.9 L230.6,122.5 L227.9,122.1 L225.1,121.8 L222.4,121.4 L219.7,121.0 L217.0,120.6 L214.2,120.2 L211.5,119.7 L208.8,119.3 L206.1,118.9 L203.4,118.5 L200.6,118.0 L197.9,117.6 L195.2,117.1 L192.5,116.6 L189.8,116.2 L187.1,115.7 L184.4,115.2 L181.6,114.7 L178.9,114.2 L176.2,113.7 L173.5,113.2 L170.8,112.6 L168.1,112.1 L165.4,111.6 L162.7,111.0 L160.0,110.5 L157.3,109.9 L154.6,109.4 L151.9,108.8 L149.2,108.2 L146.4,107.6 L143.7,107.0 L140.9,106.4 L138.2,105.7 L135.4,105.1 L132.7,104.5 L129.9,103.8 L127.2,103.2 L124.5,102.5 L121.7,101.9 L119.0,101.2 L116.3,100.5 L113.5,99.8 L110.8,99.1 L108.1,98.4 L105.4,97.7 L102.6,97.0 L99.9,96.3 L97.2,95.5 L94.5,94.8 L91.8,94.0 L89.0,93.3 L86.3,92.5 L83.6,91.8 L80.9,91.0 L78.2,90.2 L78.7,91.1 L78.7,96.0 L81.0,101.6 L79.8,109.3 L76.0,115.9 L72.1,121.5 L67.7,120.4 L68.2,115.9 L71.0,110.9 L73.8,106.0 L72.1,103.8 L69.3,103.0 L66.6,102.1 L63.8,100.2 L61.0,98.3Z" fill="none" stroke="#1a1a1a" stroke-width="1.0" stroke-linejoin="round"/>
<path d="M73,96 L76,92.5 L79.5,94.5 L80.5,101 L79,108.5 L76.5,114 L74,119.5 L71,122 L68,121 L68.5,117.5 L72,112 L75,106 L74.5,102 Z" fill="#2e2e2e" opacity="0.88"/>
<path d="M68.8,113.7 L73.2,109.9 L74.3,111 L69.9,115.9Z" fill="#fff"/>

<g fill="#fff" stroke="#222" stroke-width="0.8"><path d="M627.6,319.8 L636.5,317.6 L638.1,319.8 L633.1,321.5 L628.7,321.5Z"/><path d="M632,334.2 L637.6,327.6 L640.9,323.1 L642.5,325.4 L643.1,330.9 L638.7,334.2 L633.1,336.4Z"/></g>
<g fill="none" stroke="#222" stroke-width="0.9"><path d="M622.1,330.9 L627,331.5 L632,332"/><path d="M623.2,337.5 L628,338.2 L633.1,338.6"/><path d="M616.6,297.7 L621,301 L626.5,304.4"/><path d="M614.4,301 L619,304 L624.3,306.6"/><path d="M619.9,316.5 L624,318.5 L628.7,321"/></g>
<g fill="#222"><path d="M41,338 L47,338.5 L53,341 L49,342.5 L44,341Z"/><path d="M48,354 L51.5,354.5 L51,356 L48.5,355.5Z"/><path d="M61,353.5 L64,355 L63.5,357.5 L61.5,356Z"/><path d="M61,361 L63,362 L63.5,366 L61.5,365Z"/></g>
</svg>
<svg class="map" width="724" height="732" viewBox="0 0 724 732">
<defs>
<clipPath id="noaac"><circle cx="516.7" cy="35.8" r="20"/></clipPath>
<clipPath id="nasac"><circle cx="635.7" cy="35.9" r="18.3"/></clipPath>
<clipPath id="ndmcc"><circle cx="689.4" cy="34.8" r="16.4"/></clipPath>
</defs>
<!-- NOAA -->
<g clip-path="url(#noaac)">
<rect x="496" y="15" width="42" height="42" fill="#fff"/>
<path d="M500.3,24.4 Q516.7,8 532.1,23.2 Q527.5,31.5 524.5,36 Q520.5,39.5 517.5,39.2 Q511,36.5 500.3,24.4Z" fill="#1d4f9e"/>
<path d="M496,30.5 Q504,36 510,40.8 Q514,42.5 518.5,43 L513.8,44.6 Q522,44.2 527.8,40.5 Q533,33 536.5,27 L540,60 L494,60Z" fill="#1da2dd"/>
</g>
<text x="516.6" y="29.6" font-family="Liberation Sans, sans-serif" font-weight="bold" font-size="6.6" fill="#fff" text-anchor="middle" textLength="16" lengthAdjust="spacingAndGlyphs">NOAA</text>
<!-- USDA -->
<text x="545" y="33.2" font-family="Liberation Serif, serif" font-weight="bold" font-size="23" fill="#1b2f7c" textLength="57.5" lengthAdjust="spacingAndGlyphs">USDA</text>
<rect x="545.2" y="35.9" width="57.8" height="1.8" fill="#1a5d38"/>
<path d="M545.2,38.8 Q566,37.6 592,38.2 L592,38.9 Q566,39.2 545.2,41.0Z" fill="#1a5d38"/>
<path d="M545.2,47.4 Q572,40.4 603,40 L603,55.8 L545.2,55.8Z" fill="#1a5d38"/>
<!-- NASA -->
<circle cx="635.7" cy="35.9" r="18.3" fill="#1f4aa0"/>
<path d="M627,27 Q629,23 633,24.5" fill="none" stroke="#fff" stroke-width="0.7" opacity="0.8"/>
<path d="M635,26 L641,33" fill="none" stroke="#fff" stroke-width="0.6" opacity="0.7"/>
<text x="636" y="39.2" font-family="Liberation Sans, sans-serif" font-weight="bold" font-size="10" fill="#fff" text-anchor="middle" textLength="30.5" lengthAdjust="spacingAndGlyphs">NASA</text>
<path d="M614.5,41.5 Q637,36 659.8,20.4 Q655,27 640,35.5 Q628,47 620,52.5 Q630,42 637,36.5 Q626,39.5 614.5,41.5Z" fill="#f0452c"/>
<!-- NDMC -->
<circle cx="688.9" cy="35.5" r="18.6" fill="none" stroke="#5a3a2a" stroke-width="2.4" stroke-dasharray="1.2 1.0" opacity="0.7"/>
<g clip-path="url(#ndmcc)">
<rect x="672" y="17" width="36" height="36" fill="#fff"/>
<rect x="672" y="17" width="36" height="25" fill="#3d6b33"/>
<path d="M672,41 Q677,40.5 682,41.5 Q686,40 690,41.5 Q696,43.5 700,42 Q704,41 707,41.5 L707,46 Q700,46.5 694,46 Q688,44.5 683,46 Q678,47.5 672,46.5Z" fill="#5a6fc2"/>
<path d="M675,48 Q682,44.5 688,46.5 Q695,45.5 702,46.5 Q704,48 703,52 L676,52Z" fill="#4a2f20"/>
</g>
<text x="689.2" y="37.2" font-family="Liberation Sans, sans-serif" font-weight="bold" font-size="12" fill="#fff" text-anchor="middle" textLength="24.8" lengthAdjust="spacingAndGlyphs">NDMC</text>
</svg>

<div class="t" id="title">U.S. Drought Monitor</div>
<div class="t" id="ltitle">U.S. Drought Monitor</div>
<div class="bar" style="left:16px;width:137px;background:#ffff00;box-shadow:0 0 0 0.5px #e4e4e4"></div>
<div class="bar" style="left:154px;width:137px;background:#fcd37f"></div>
<div class="bar" style="left:292.6px;width:137.6px;background:#ffaa00"></div>
<div class="bar" style="left:431px;width:137px;background:#e60000"></div>
<div class="bar" style="left:569.8px;width:138.3px;background:#730000"></div>
<div class="lab" style="left:16px">D0</div>
<div class="lab" style="left:154px">D1</div>
<div class="lab" style="left:292px">D2</div>
<div class="lab" style="left:431px">D3</div>
<div class="lab" style="left:569px">D4</div>
<div class="t" id="src">Source(s): NDMC, NOAA, USDA, NASA</div>
<div class="t" id="valid">Data Valid: 04/21/26</div>
<div class="t" id="dg">Drought.gov</div>
</body></html>
